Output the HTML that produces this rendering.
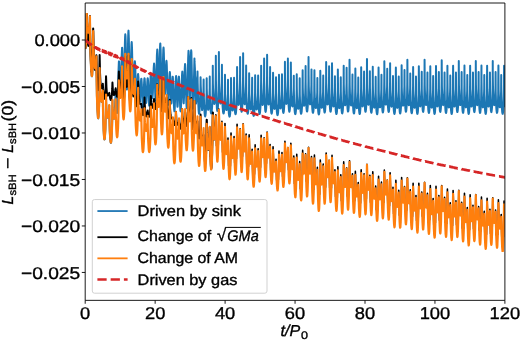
<!DOCTYPE html><html><head><meta charset="utf-8"><style>html,body{margin:0;padding:0;background:#fff;}svg{display:block;will-change:transform;}text{font-family:"Liberation Sans",sans-serif;stroke:#000;stroke-width:0.35px;text-rendering:geometricPrecision;}</style></head><body>
<svg width="520" height="340" viewBox="0 0 520 340">
<rect width="520" height="340" fill="#fff"/>
<defs><clipPath id="ax"><rect x="85.20" y="3.00" width="419.70" height="297.35"/></clipPath></defs>
<defs><filter id="bl" x="0" y="0" width="1" height="1"><feGaussianBlur stdDeviation="0.35"/></filter></defs>
<g clip-path="url(#ax)"><g filter="url(#bl)" fill="none" stroke-linejoin="round" stroke-linecap="butt">
<path d="M85.20 48.87L85.50 48.10L85.75 46.24L86.25 38.63L86.60 26.48L86.71 13.92L86.85 20.32L87.25 26.46L87.80 31.03L88.10 32.38L88.40 32.96L88.65 32.85L88.90 32.15L89.40 28.70L89.85 21.93L89.94 16.74L90.05 33.14L90.45 52.81L91.10 68.67L91.65 75.62L91.80 76.25L91.95 76.31L92.20 75.02L92.70 66.05L93.05 50.36L93.17 31.39L93.30 40.95L93.65 51.34L94.10 59.86L94.65 65.98L94.95 67.84L95.25 68.72L95.40 68.81L95.55 68.65L95.80 67.81L96.25 63.37L96.40 56.73L96.55 77.81L96.90 95.73L97.40 110.27L97.95 117.69L98.10 118.33L98.25 118.37L98.55 116.60L99.10 105.96L99.50 87.35L99.62 68.34L99.70 76.06L100.00 85.98L100.45 94.24L100.95 99.46L101.25 101.13L101.55 101.90L101.70 101.96L101.85 101.83L102.15 100.95L102.65 97.03L102.83 91.00L102.95 106.46L103.20 118.50L103.65 131.19L104.15 138.46L104.45 139.57L104.65 139.19L104.80 138.32L105.40 129.43L105.85 114.45L106.04 94.81L106.15 102.10L106.45 108.95L106.90 114.35L107.40 117.19L107.70 117.73L108.00 117.54L108.30 116.66L108.60 115.12L109.10 110.34L109.25 105.46L109.40 119.72L109.75 130.91L110.30 139.98L110.55 142.04L110.85 142.94L111.15 142.11L111.45 139.41L111.95 129.93L112.30 116.78L112.45 100.21L112.60 107.91L112.95 113.71L113.45 117.67L113.70 118.55L113.85 118.78L114.00 118.80L114.45 115.33L114.85 109.69L115.50 95.56L115.65 89.74L115.75 97.35L116.10 103.85L116.85 112.34L117.00 113.03L117.10 113.05L117.30 111.82L117.70 103.31L118.50 71.24L118.86 61.77L119.00 61.38L119.05 61.75L119.30 65.80L120.15 89.77L120.35 92.43L120.45 92.80L120.55 92.48L120.90 85.97L121.70 55.09L122.07 47.83L122.15 47.76L122.20 48.01L122.30 49.20L122.50 54.24L123.40 94.06L123.60 97.87L123.68 98.19L123.75 97.88L124.15 85.93L124.90 43.58L125.10 36.76L125.28 34.27L125.50 36.26L125.70 42.37L126.55 83.56L126.75 88.51L126.85 89.48L126.90 89.57L126.95 89.39L127.35 78.86L128.15 37.29L128.35 31.79L128.50 30.62L128.85 38.45L129.65 86.38L130.05 99.02L130.11 99.26L130.20 98.77L130.40 94.22L131.25 50.92L131.45 44.46L131.65 42.00L131.80 42.93L132.00 47.52L132.85 84.73L133.25 93.71L133.35 94.05L133.45 93.62L133.65 90.68L134.45 66.61L134.65 62.66L134.85 61.21L135.05 62.58L135.25 66.66L136.05 95.16L136.45 102.93L136.55 103.23L136.65 102.86L136.85 100.26L137.65 79.06L137.90 74.98L138.10 74.03L138.45 77.40L139.30 97.24L139.70 101.58L139.80 101.58L139.90 101.13L140.15 98.23L141.05 80.45L141.25 78.83L141.35 78.72L141.45 79.11L141.80 84.19L142.55 103.34L142.75 106.35L142.92 107.25L143.10 106.41L143.25 104.35L144.10 82.74L144.30 79.49L144.50 78.24L144.65 78.69L144.85 80.98L145.65 98.59L146.05 103.00L146.15 103.01L146.25 102.57L146.45 100.37L147.30 82.04L147.50 79.21L147.70 78.16L147.90 79.15L148.10 82.08L148.95 102.95L149.15 105.43L149.25 105.84L149.35 105.66L149.70 100.58L150.50 78.07L150.70 74.72L150.90 73.47L151.10 74.41L151.30 77.30L152.10 95.41L152.30 97.75L152.40 98.17L152.50 98.04L152.90 92.06L153.70 67.96L154.05 63.53L154.25 64.75L154.45 68.69L155.30 96.94L155.50 100.10L155.60 100.50L155.65 100.39L156.05 92.08L156.90 55.35L157.25 49.44L157.45 50.98L157.65 55.83L158.45 86.41L158.65 90.03L158.75 90.52L158.80 90.40L159.15 83.26L159.95 48.68L160.15 44.21L160.30 43.40L160.65 50.32L161.45 88.64L161.85 98.23L161.90 98.39L161.95 98.30L162.05 97.39L162.25 92.84L163.10 55.36L163.30 49.67L163.50 47.51L163.65 48.44L163.85 52.91L164.65 86.74L165.00 93.80L165.05 93.93L165.15 93.53L165.35 90.23L166.10 65.53L166.30 61.71L166.45 60.81L166.60 61.70L166.80 65.48L167.65 96.12L168.10 104.61L168.20 104.82L168.30 104.41L168.50 101.84L169.40 76.94L169.60 73.35L169.80 72.07L169.95 72.81L170.15 76.00L170.90 98.33L171.10 102.25L171.28 103.61L171.45 102.83L171.65 99.56L172.45 78.64L172.65 76.68L172.75 76.65L172.84 77.17L173.20 83.87L173.95 105.94L174.20 110.19L174.40 111.32L174.60 110.27L174.80 107.15L175.70 81.09L175.90 77.36L176.10 76.10L176.40 79.41L177.15 102.27L177.35 105.97L177.50 106.82L177.65 105.89L177.85 102.10L178.60 79.51L178.80 76.86L178.90 76.58L179.00 77.01L179.35 83.31L180.15 106.60L180.40 110.49L180.59 111.36L180.85 109.48L181.10 104.50L182.05 74.81L182.25 71.94L182.35 71.60L182.40 71.73L182.75 77.94L183.40 100.05L183.55 102.75L183.70 103.40L184.05 96.57L184.75 68.56L185.05 63.97L185.25 65.46L185.45 70.15L186.35 102.78L186.60 107.31L186.70 108.02L186.75 108.12L186.80 108.04L187.00 106.02L187.25 99.70L188.15 58.65L188.50 50.83L188.65 51.66L188.85 56.99L189.50 90.96L189.70 97.51L189.85 98.85L190.15 91.78L190.85 55.59L191.15 50.22L191.35 51.85L191.37 51.47L192.40 99.98L192.65 106.30L192.85 108.45L192.91 108.59L193.00 108.37L193.15 106.89L193.50 98.66L194.44 58.40L194.50 61.40L194.90 68.05L195.60 96.47L195.95 103.58L196.10 103.14L196.25 100.78L196.90 82.18L197.15 77.93L197.45 75.62L197.51 71.45L197.65 82.27L198.20 101.29L198.60 110.10L198.80 112.53L199.04 113.70L199.25 113.23L199.50 110.98L200.00 101.68L200.45 88.61L200.58 77.28L200.70 85.09L201.75 106.79L202.10 110.13L202.25 109.70L202.45 107.57L203.45 90.62L203.64 79.45L203.75 92.61L204.10 103.93L204.60 113.15L204.85 115.51L205.15 116.53L205.45 115.69L205.75 113.07L206.30 103.34L206.60 92.84L206.69 78.25L206.75 88.17L207.00 96.12L207.65 106.53L207.95 109.15L208.22 109.82L208.50 108.91L208.80 106.60L209.40 98.47L209.70 87.62L209.75 76.41L209.85 93.43L210.25 105.64L210.60 110.45L210.95 112.91L211.15 113.45L211.30 113.46L211.65 112.09L212.15 106.06L212.55 95.19L212.75 82.37L212.80 65.78L212.90 83.52L213.25 95.03L213.55 99.81L213.90 102.91L214.25 103.95L214.45 103.66L214.60 103.02L215.15 96.96L215.55 86.94L215.80 72.02L215.85 55.69L215.95 80.78L216.30 97.19L216.90 108.47L217.25 110.73L217.35 110.88L217.45 110.81L217.60 110.30L217.90 107.72L218.15 103.77L218.60 90.43L218.85 71.49L218.89 52.08L218.95 71.06L219.15 83.92L219.55 95.38L220.10 102.26L220.45 103.45L220.60 103.31L220.80 102.55L221.15 99.55L221.45 94.91L221.85 81.40L221.93 64.64L222.00 83.77L222.20 95.58L222.60 106.31L223.10 112.30L223.45 113.58L223.65 113.42L223.85 112.62L224.20 109.58L224.50 104.86L224.85 93.80L224.97 74.84L225.15 94.07L225.45 101.75L225.85 107.06L226.25 109.59L226.45 110.05L226.65 110.02L227.05 108.47L227.40 105.22L227.90 93.91L228.00 79.86L228.05 92.56L228.35 105.23L228.85 113.34L229.15 115.67L229.50 116.67L229.70 116.44L229.85 115.89L230.15 113.71L230.65 105.79L230.95 94.42L231.03 78.06L231.25 97.49L231.55 103.96L232.00 108.76L232.35 110.26L232.55 110.40L232.75 110.06L233.15 107.85L233.50 103.90L233.95 92.73L234.06 77.83L234.15 94.01L234.55 106.42L234.90 111.24L235.25 113.70L235.45 114.24L235.60 114.25L235.95 112.88L236.45 106.80L236.85 95.65L237.05 81.39L237.08 67.08L237.15 82.43L237.50 95.45L237.80 100.48L238.15 103.73L238.50 104.88L238.70 104.66L238.85 104.05L239.40 98.13L239.80 88.27L240.05 73.86L240.10 56.99L240.20 81.50L240.50 96.54L241.10 108.85L241.45 111.45L241.61 111.73L241.80 111.32L242.10 108.99L242.35 105.28L242.80 92.68L243.05 76.37L243.12 53.34L243.20 74.63L243.40 86.07L243.80 96.94L244.35 103.36L244.50 104.01L244.70 104.27L245.05 103.09L245.40 99.74L245.70 94.67L246.05 82.04L246.13 65.54L246.20 84.81L246.40 96.33L246.80 106.86L247.30 112.67L247.65 113.81L247.85 113.53L248.00 112.88L248.35 109.82L248.65 105.00L249.05 90.91L249.14 73.14L249.30 92.44L249.60 100.74L250.00 106.32L250.40 108.92L250.60 109.37L250.80 109.29L251.20 107.57L251.55 104.06L252.00 94.05L252.14 77.73L252.20 92.12L252.50 104.46L253.00 112.67L253.30 114.99L253.64 115.88L253.80 115.69L254.00 114.89L254.30 112.39L254.80 103.40L255.05 93.01L255.14 75.23L255.35 95.58L255.65 102.54L256.05 107.30L256.40 109.15L256.60 109.44L256.80 109.21L257.20 107.12L257.55 103.22L258.00 92.41L258.14 75.61L258.25 94.03L258.60 105.17L258.90 109.92L259.25 113.00L259.45 113.81L259.63 113.99L260.00 112.65L260.50 106.42L260.90 94.89L261.10 79.69L261.13 65.69L261.20 81.95L261.55 95.27L261.85 100.46L262.20 103.79L262.55 104.94L262.75 104.68L262.90 104.04L263.45 97.93L263.85 87.67L264.05 76.45L264.12 58.43L264.20 81.12L264.55 98.30L265.15 109.55L265.45 111.58L265.61 111.85L265.80 111.44L266.10 109.11L266.35 105.41L266.80 92.72L267.05 75.40L267.10 54.82L267.15 72.09L267.35 85.50L267.75 96.87L268.30 103.48L268.45 104.18L268.65 104.48L269.00 103.40L269.35 100.20L269.65 95.30L270.00 83.22L270.08 66.94L270.15 85.28L270.35 96.66L270.75 106.93L271.25 112.56L271.40 113.27L271.60 113.61L271.80 113.28L271.95 112.59L272.30 109.37L272.60 104.31L272.95 92.19L273.06 72.71L273.25 93.19L273.50 99.99L273.90 105.78L274.30 108.46L274.50 108.92L274.70 108.84L275.10 107.08L275.45 103.50L275.90 93.27L276.03 77.25L276.10 92.22L276.35 102.87L276.85 111.66L277.15 114.14L277.50 115.15L277.70 114.88L277.85 114.26L278.15 111.85L278.65 103.08L278.95 89.34L279.00 74.68L279.20 94.52L279.50 101.63L279.90 106.39L280.25 108.21L280.45 108.47L280.65 108.19L281.05 106.01L281.40 101.95L281.85 90.44L281.97 74.26L282.05 90.79L282.45 104.33L282.75 108.99L283.10 112.01L283.30 112.76L283.45 112.88L283.80 111.60L284.30 105.14L284.70 92.98L284.90 77.09L284.93 61.83L285.00 79.00L285.35 93.39L285.65 98.98L286.00 102.59L286.35 103.86L286.55 103.61L286.70 102.96L287.25 96.72L287.65 86.15L287.85 73.25L287.89 58.48L287.95 78.78L288.20 94.22L288.65 105.91L288.95 109.81L289.25 111.58L289.40 111.75L289.60 111.24L289.90 108.89L290.45 98.40L290.75 84.63L290.85 62.38L291.05 87.76L291.35 96.92L291.70 102.63L292.05 105.53L292.25 106.24L292.45 106.35L292.85 104.86L293.20 101.55L293.70 90.04L293.80 75.66L293.85 89.17L294.15 102.40L294.65 110.81L294.95 113.18L295.28 114.11L295.45 113.94L295.60 113.41L295.90 111.20L296.40 102.72L296.70 89.12L296.75 74.37L296.80 86.42L297.00 95.95L297.40 103.87L297.90 108.10L298.05 108.60L298.25 108.80L298.60 107.88L298.95 105.29L299.25 101.36L299.60 92.17L299.70 78.18L299.80 94.34L300.20 106.30L300.55 110.99L300.90 113.33L301.10 113.79L301.30 113.65L301.65 111.81L302.10 105.76L302.45 95.61L302.65 70.17L302.75 86.80L303.05 96.87L303.35 101.77L303.65 104.54L304.00 105.83L304.20 105.73L304.35 105.26L304.90 100.31L305.30 91.97L305.55 79.66L305.60 65.91L305.65 82.44L305.95 97.74L306.50 108.35L306.80 110.88L307.00 111.54L307.15 111.50L307.45 110.01L307.75 106.39L308.20 95.17L308.45 81.29L308.54 57.05L308.60 74.78L308.80 86.98L309.20 97.61L309.75 103.63L310.05 104.39L310.20 104.20L310.40 103.39L310.75 100.39L311.05 95.81L311.40 84.68L311.48 69.52L311.60 90.16L312.00 103.87L312.30 108.81L312.65 111.95L312.85 112.73L313.05 112.83L313.40 111.35L313.85 105.76L314.20 96.38L314.42 70.20L314.60 91.25L314.85 98.67L315.25 104.84L315.60 107.41L315.80 108.01L316.00 108.06L316.40 106.52L316.75 103.24L317.25 92.24L317.36 77.92L317.45 93.80L317.70 103.07L318.20 111.27L318.50 113.59L318.80 114.44L319.00 114.20L319.15 113.58L319.45 111.07L319.95 101.57L320.20 90.55L320.30 70.76L320.50 92.83L320.80 100.56L321.20 105.66L321.55 107.54L321.75 107.78L321.95 107.46L322.30 105.56L322.65 101.74L323.10 91.23L323.23 75.42L323.35 93.57L323.70 104.12L324.00 108.73L324.35 111.72L324.55 112.47L324.70 112.60L325.05 111.30L325.55 104.73L325.90 94.43L326.10 81.50L326.16 62.07L326.20 76.22L326.40 88.64L326.80 98.49L327.30 103.63L327.45 104.22L327.65 104.41L328.00 103.16L328.35 99.81L328.65 94.79L329.00 82.86L329.09 66.23L329.20 87.53L329.60 102.10L329.95 108.05L330.30 111.08L330.45 111.63L330.55 111.76L330.65 111.69L331.00 109.90L331.45 103.37L331.80 92.51L332.02 63.16L332.20 87.49L332.45 95.84L332.85 102.80L333.20 105.69L333.40 106.38L333.60 106.46L334.00 104.90L334.35 101.54L334.80 92.08L334.94 76.33L335.00 90.39L335.30 102.67L335.80 110.90L336.10 113.24L336.40 114.09L336.70 113.42L337.00 111.08L337.50 101.80L337.80 87.26L337.86 69.55L338.05 91.74L338.30 99.15L338.70 105.27L339.05 107.70L339.25 108.19L339.45 108.10L339.85 106.24L340.20 102.62L340.65 92.73L340.78 77.32L340.85 91.66L341.10 101.90L341.60 110.29L341.90 112.63L342.05 113.23L342.24 113.46L342.55 112.51L342.85 109.83L343.35 99.63L343.65 83.24L343.70 65.77L343.80 84.15L344.05 94.18L344.50 102.11L344.80 104.52L345.10 105.34L345.40 104.73L345.70 102.68L346.25 94.15L346.55 82.56L346.62 67.76L346.70 86.24L347.00 99.16L347.55 108.88L347.85 111.11L348.00 111.56L348.15 111.57L348.45 110.20L348.75 106.76L349.20 95.94L349.45 82.17L349.53 59.66L349.70 84.64L349.95 93.87L350.35 101.44L350.70 104.57L350.90 105.32L351.10 105.43L351.50 103.83L351.85 100.36L352.35 88.58L352.45 74.39L352.50 88.61L352.80 101.63L353.30 110.19L353.60 112.62L353.90 113.51L354.05 113.38L354.20 112.86L354.50 110.49L355.00 101.02L355.30 85.66L355.36 68.58L355.55 91.57L355.85 100.02L356.25 105.64L356.60 107.79L356.75 108.10L356.95 108.00L357.35 106.10L357.70 102.39L358.15 91.95L358.26 77.41L358.35 93.35L358.70 105.04L359.00 109.86L359.35 112.99L359.55 113.82L359.70 114.01L359.90 113.66L360.05 112.93L360.55 106.96L360.90 97.58L361.10 86.09L361.17 67.29L361.35 89.91L361.60 97.50L362.00 103.64L362.35 105.98L362.55 106.38L362.75 106.17L363.15 103.93L363.50 99.74L363.95 88.17L364.07 71.45L364.15 88.32L364.45 100.35L365.05 109.80L365.40 111.70L365.55 111.80L365.70 111.47L366.00 109.39L366.25 105.95L366.70 93.56L366.90 80.90L366.97 58.98L367.15 84.62L367.40 93.59L367.80 100.97L368.15 103.97L368.35 104.63L368.45 104.70L368.55 104.62L368.95 102.68L369.30 98.76L369.75 87.79L369.87 71.28L369.95 88.35L370.20 99.47L370.70 109.00L371.00 111.71L371.32 112.77L371.50 112.56L371.65 111.92L371.95 109.26L372.45 98.85L372.70 85.78L372.77 66.70L372.85 84.00L373.05 93.60L373.45 102.42L373.95 107.00L374.10 107.49L374.30 107.61L374.65 106.42L375.25 99.72L375.60 89.05L375.67 76.82L375.75 92.86L376.15 105.93L376.50 111.08L376.85 113.72L377.05 114.27L377.20 114.23L377.55 112.52L378.00 106.22L378.35 95.49L378.56 67.60L378.75 90.95L379.00 98.49L379.40 104.63L379.75 106.96L379.90 107.31L380.10 107.25L380.50 105.36L380.85 101.62L381.35 89.38L381.45 74.86L381.55 92.17L381.85 102.51L382.45 110.89L382.80 112.44L382.95 112.43L383.10 112.01L383.40 109.77L383.65 106.20L384.05 95.37L384.30 78.04L384.34 61.15L384.50 85.08L384.75 93.97L385.15 101.12L385.50 103.98L385.70 104.57L385.90 104.48L386.30 102.33L386.65 98.11L387.10 86.37L387.23 68.78L387.30 86.51L387.50 96.57L387.95 106.78L388.25 110.23L388.55 111.84L388.65 112.00L388.75 111.96L388.90 111.54L389.20 109.29L389.75 98.49L390.05 82.30L390.11 63.36L390.15 77.67L390.40 92.11L390.85 101.95L391.10 104.68L391.40 106.32L391.55 106.58L391.70 106.49L392.05 105.00L392.60 98.44L392.90 89.78L392.99 75.99L393.10 93.60L393.50 105.86L393.85 110.91L394.20 113.48L394.40 113.99L394.55 113.92L394.90 112.09L395.35 105.43L395.65 96.13L395.87 67.40L396.05 90.39L396.35 99.47L396.75 105.35L397.10 107.56L397.25 107.86L397.45 107.73L397.85 105.71L398.20 101.82L398.65 90.76L398.75 76.50L398.85 93.45L399.15 103.74L399.75 111.98L400.10 113.46L400.25 113.45L400.40 113.03L400.70 110.86L400.95 107.43L401.35 97.01L401.55 85.61L401.63 65.22L401.80 88.23L402.05 96.31L402.45 102.79L402.80 105.27L403.00 105.70L403.20 105.48L403.60 103.16L403.95 98.77L404.40 86.26L404.50 70.08L404.55 84.74L404.85 99.17L405.40 108.96L405.70 111.23L405.85 111.70L406.00 111.74L406.30 110.42L406.60 107.00L407.05 96.02L407.30 81.69L407.38 59.75L407.55 85.17L407.80 94.20L408.20 101.58L408.55 104.56L408.70 105.11L408.90 105.26L409.30 103.67L409.65 100.13L410.15 88.11L410.25 73.49L410.30 87.83L410.60 101.26L411.10 110.02L411.40 112.48L411.68 113.30L411.85 113.12L412.00 112.51L412.30 109.87L412.80 99.34L413.05 85.90L413.12 66.98L413.20 84.62L413.40 94.10L413.80 102.83L414.30 107.28L414.45 107.71L414.60 107.79L414.95 106.66L415.55 100.01L415.90 89.94L415.99 76.40L416.10 94.48L416.50 106.37L416.80 110.70L417.15 113.37L417.35 113.91L417.50 113.85L417.85 112.06L418.30 105.53L418.65 94.36L418.85 66.25L419.05 90.28L419.35 98.77L419.70 103.79L420.05 106.02L420.25 106.33L420.45 106.01L420.80 103.96L421.15 99.77L421.60 88.04L421.72 71.75L421.80 89.14L422.10 100.82L422.70 110.08L423.05 111.84L423.20 111.88L423.35 111.47L423.65 109.17L423.90 105.49L424.30 94.26L424.50 81.94L424.58 59.85L424.75 85.12L425.00 94.11L425.40 101.45L425.75 104.38L425.90 104.91L426.10 105.02L426.50 103.32L426.85 99.63L427.30 89.35L427.44 72.54L427.50 88.04L427.75 99.71L428.25 109.30L428.55 112.02L428.87 113.07L429.15 112.45L429.45 110.00L429.95 100.00L430.20 88.07L430.30 66.29L430.35 81.53L430.55 92.73L430.95 102.16L431.45 106.98L431.60 107.49L431.80 107.60L432.15 106.34L432.75 99.27L433.05 90.65L433.15 75.93L433.25 93.13L433.65 105.96L433.95 110.50L434.30 113.33L434.50 113.94L434.65 113.92L435.00 112.21L435.45 105.76L435.80 94.73L436.01 66.00L436.20 89.89L436.45 97.58L436.85 103.80L437.20 106.09L437.35 106.40L437.55 106.25L437.95 104.08L438.30 99.90L438.75 88.19L438.86 72.10L438.95 89.56L439.25 101.08L439.85 110.21L440.20 111.91L440.35 111.92L440.50 111.49L440.80 109.14L441.05 105.40L441.45 93.95L441.65 80.92L441.71 60.34L441.90 86.06L442.15 94.67L442.55 101.75L442.90 104.53L443.05 105.01L443.15 105.11L443.25 105.04L443.65 103.19L444.00 99.32L444.45 88.25L444.56 72.39L444.65 89.81L444.90 100.34L445.40 109.55L445.70 112.13L445.99 113.02L446.15 112.84L446.30 112.22L446.60 109.52L447.10 98.70L447.35 84.70L447.41 65.83L447.45 79.41L447.65 91.92L448.05 101.77L448.55 106.78L448.70 107.33L448.90 107.48L449.25 106.25L449.85 99.17L450.20 87.69L450.26 75.40L450.35 92.53L450.75 105.77L451.05 110.42L451.40 113.32L451.60 113.95L451.75 113.94L452.10 112.20L452.55 105.65L452.90 94.40L453.10 65.74L453.30 90.08L453.60 98.80L453.95 103.93L454.30 106.20L454.45 106.50L454.65 106.33L455.05 104.09L455.40 99.84L455.85 87.63L455.95 72.49L456.05 90.93L456.35 101.73L456.90 110.09L457.25 111.97L457.40 112.05L457.55 111.70L457.85 109.55L458.10 106.01L458.50 95.19L458.75 77.75L458.79 60.89L458.95 85.22L459.20 94.28L459.60 101.57L459.95 104.46L460.10 104.97L460.30 105.05L460.70 103.27L461.05 99.44L461.50 88.62L461.63 72.06L461.70 88.69L461.95 99.85L462.45 109.33L462.70 111.66L463.00 112.88L463.15 112.86L463.30 112.40L463.60 110.05L464.10 100.27L464.40 84.64L464.46 65.49L464.50 78.95L464.70 91.69L465.10 101.62L465.60 106.67L465.90 107.39L466.25 106.40L466.55 104.00L466.85 99.82L467.20 89.95L467.30 75.10L467.40 92.95L467.80 105.91L468.10 110.51L468.45 113.36L468.65 113.95L468.80 113.90L469.15 112.05L469.60 105.24L469.90 95.82L470.10 81.00L470.13 65.67L470.30 88.72L470.55 97.06L470.95 103.66L471.30 106.13L471.45 106.50L471.65 106.41L472.05 104.32L472.40 100.22L472.85 88.68L472.97 72.51L473.05 89.70L473.35 101.33L473.90 109.99L474.25 111.97L474.40 112.10L474.55 111.79L474.85 109.72L475.10 106.26L475.50 95.64L475.75 79.14L475.80 60.94L475.95 84.81L476.20 94.12L476.60 101.53L476.95 104.47L477.10 104.99L477.30 105.09L477.70 103.31L478.05 99.47L478.50 88.59L478.63 72.01L478.70 88.76L478.95 99.91L479.45 109.38L479.70 111.70L480.00 112.89L480.15 112.85L480.30 112.37L480.60 109.97L481.10 99.99L481.40 83.60L481.45 65.53L481.50 80.19L481.70 92.08L482.10 101.79L482.60 106.71L482.90 107.36L483.25 106.29L483.85 99.49L484.20 88.96L484.28 75.06L484.40 93.97L484.80 106.24L485.10 110.70L485.45 113.42L485.65 113.93L485.80 113.83L486.15 111.82L486.60 104.68L486.90 94.71L487.11 65.72L487.30 89.89L487.60 98.75L487.95 103.94L488.30 106.23L488.50 106.55L488.70 106.21L489.05 104.09L489.40 99.76L489.85 87.06L489.94 72.50L490.00 88.24L490.35 102.11L490.90 110.31L491.25 112.08L491.40 112.12L491.55 111.70L491.85 109.39L492.10 105.67L492.50 94.22L492.70 80.98L492.76 60.99L492.80 75.76L493.05 90.70L493.45 100.00L493.70 103.03L494.00 104.85L494.15 105.14L494.30 105.05L494.65 103.41L495.20 96.17L495.50 86.49L495.59 71.92L495.70 91.49L496.10 104.53L496.40 109.28L496.75 112.24L496.95 112.87L497.10 112.84L497.45 111.03L497.90 104.17L498.20 94.38L498.41 65.56L498.60 89.87L498.90 98.94L499.25 104.36L499.60 106.87L499.75 107.26L499.95 107.21L500.30 105.60L500.65 101.88L501.10 91.38L501.23 75.01L501.30 90.67L501.65 104.14L502.20 112.14L502.55 113.85L502.70 113.88L502.85 113.47L503.15 111.25L503.40 107.69L503.80 96.74L504.00 83.79L504.05 65.78L504.15 84.78L504.40 95.31L504.90 104.03L505.20 106.10L505.35 106.51L505.50 106.54" stroke="#1f77b4" stroke-width="2.0"/>
<path d="M85.20 48.53L85.45 47.64L85.70 45.28L86.15 37.19L86.50 26.32L86.71 13.81L86.95 24.19L87.45 36.10L87.95 43.36L88.20 45.26L88.40 45.88L88.55 45.79L88.65 45.45L88.85 44.10L89.30 37.60L89.75 25.51L89.94 15.91L90.15 33.06L90.60 53.45L91.05 65.99L91.50 71.61L91.60 71.97L91.75 71.91L92.00 70.22L92.45 62.14L92.95 44.48L93.17 28.38L93.65 50.96L94.35 66.12L94.80 69.58L94.90 69.79L95.05 69.77L95.30 68.94L96.00 62.60L96.40 55.17L96.60 65.36L97.00 76.78L97.45 85.25L97.85 89.34L98.00 90.00L98.15 90.15L98.40 89.23L98.90 82.62L99.35 70.09L99.62 54.92L100.05 73.43L100.40 81.10L100.75 85.65L101.10 87.82L101.25 88.17L101.45 88.24L101.85 87.40L102.75 84.44L102.83 83.83L103.05 88.13L103.60 94.23L104.05 97.49L104.45 98.71L104.70 98.47L104.95 97.33L105.40 92.74L105.80 85.20L106.04 76.37L106.45 87.35L106.80 91.87L107.15 94.40L107.45 95.38L107.60 95.55L107.80 95.52L109.25 92.87L109.45 94.65L110.15 98.29L110.55 99.65L110.75 99.96L110.90 99.99L111.15 99.57L111.35 98.78L111.80 95.21L112.25 88.42L112.45 82.53L112.90 90.27L113.25 93.10L113.60 94.58L113.80 94.93L114.00 94.98L114.50 94.02L115.25 90.90L115.65 88.32L115.95 91.48L116.60 95.37L117.05 96.72L117.26 96.74L117.45 96.32L117.90 93.38L118.30 87.95L118.65 80.15L118.86 71.48L119.15 78.73L119.70 85.86L120.20 89.08L120.45 89.57L120.70 89.28L121.10 87.17L121.50 82.94L121.85 77.05L122.07 70.45L122.30 79.95L122.85 92.30L123.30 98.30L123.55 99.80L123.65 99.99L123.75 99.93L124.00 98.62L124.20 96.33L124.65 86.77L125.05 72.16L125.28 56.48L125.50 66.94L125.95 78.20L126.40 84.60L126.65 86.36L126.89 86.86L127.10 86.33L127.35 84.52L127.80 77.96L128.25 66.79L128.50 55.39L128.70 70.00L129.10 85.96L129.55 97.00L130.00 102.01L130.11 102.34L130.25 102.26L130.50 100.72L131.00 92.18L131.45 77.49L131.72 60.75L131.90 71.04L132.30 83.45L132.75 91.87L133.20 95.85L133.40 96.40L133.60 96.31L134.00 94.56L134.70 87.55L134.93 83.53L135.20 92.78L135.65 100.74L136.15 105.38L136.40 106.22L136.53 106.27L136.65 106.08L137.10 103.35L137.50 98.19L137.90 90.11L138.13 81.58L138.60 93.64L139.30 101.54L139.60 103.07L139.95 103.90L140.25 104.08L140.85 103.98L141.30 104.16L141.33 104.05L141.55 106.73L142.20 111.70L142.65 114.15L143.05 115.16L143.30 115.05L143.55 114.23L143.95 110.88L144.30 104.96L144.52 97.55L144.75 104.12L145.20 110.88L145.65 114.68L145.90 115.80L146.15 116.33L146.30 116.42L146.50 116.31L147.70 110.58L148.00 113.16L148.65 116.05L148.90 116.62L149.10 116.74L149.30 116.51L149.50 115.87L149.90 113.22L150.30 108.55L150.87 95.88L151.25 102.88L151.55 105.37L151.95 107.23L152.20 107.69L152.45 107.70L153.00 106.53L153.65 102.90L154.03 99.08L154.30 102.56L154.90 106.91L155.30 108.62L155.50 108.93L155.70 108.79L156.15 106.48L156.60 100.82L157.00 92.01L157.18 84.18L157.40 89.87L157.90 96.59L158.40 100.15L158.65 100.78L158.85 100.68L159.30 98.35L159.70 93.52L160.15 84.31L160.33 77.43L160.55 88.57L160.95 99.92L161.40 107.94L161.80 111.08L161.90 111.27L162.05 111.10L162.25 110.02L162.70 103.96L163.20 91.05L163.47 77.88L163.65 86.17L164.05 96.22L164.45 102.39L164.90 105.86L165.10 106.40L165.30 106.43L165.75 105.04L166.35 101.03L166.60 97.78L166.85 105.11L167.35 112.90L167.85 117.17L168.10 118.09L168.25 118.23L168.35 118.16L168.75 116.48L169.15 112.45L169.55 105.57L169.72 99.76L170.15 109.94L170.50 114.21L170.85 116.73L171.15 117.89L171.55 118.48L172.00 118.51L172.84 117.95L173.05 119.65L173.70 122.93L174.10 124.37L174.45 124.98L174.70 124.89L174.95 124.27L175.35 121.80L175.75 116.74L175.95 111.64L176.40 119.27L176.75 122.25L177.10 123.99L177.45 124.76L177.65 124.86L177.90 124.74L178.40 124.04L179.04 122.17L179.25 123.77L180.05 127.54L180.40 128.48L180.59 128.61L180.75 128.45L181.20 126.37L181.60 121.98L181.95 115.44L182.14 108.96L182.55 117.37L182.90 120.82L183.25 122.71L183.50 123.27L183.65 123.34L183.80 123.22L184.35 121.32L184.90 117.14L185.22 112.46L185.45 116.75L186.05 122.96L186.45 125.42L186.65 125.92L186.85 125.79L187.30 122.79L187.70 116.53L188.10 106.42L188.30 97.10L188.50 103.90L188.95 111.78L189.40 116.25L189.60 117.29L189.84 117.76L190.05 117.47L190.25 116.57L190.70 112.37L191.15 104.99L191.37 98.12L191.60 109.05L192.05 120.50L192.50 126.98L192.75 128.69L192.90 129.08L193.00 129.08L193.25 128.13L193.45 126.41L193.85 120.29L194.25 110.17L194.44 101.04L194.85 114.22L195.55 124.33L195.95 126.51L196.15 126.85L196.40 126.73L197.00 124.96L197.51 121.15L197.70 125.82L198.15 132.14L198.60 136.39L199.00 138.32L199.15 138.50L199.25 138.44L199.50 137.55L199.95 132.92L200.35 124.98L200.58 114.43L200.95 127.42L201.60 138.07L202.05 141.14L202.30 141.71L202.45 141.75L202.60 141.59L202.95 140.63L203.25 139.16L203.55 136.79L203.64 134.96L203.85 143.49L204.35 154.06L204.85 160.97L205.25 163.29L205.40 163.19L205.50 162.79L205.70 161.08L206.10 153.30L206.50 136.75L206.69 119.76L207.20 140.19L207.60 146.68L208.05 149.61L208.15 149.76L208.30 149.69L208.55 148.80L209.05 144.13L209.45 136.89L209.75 127.23L209.95 140.88L210.35 155.56L210.80 165.28L211.05 168.05L211.25 168.78L211.50 167.65L211.70 165.02L212.15 152.92L212.80 112.52L213.35 131.15L213.70 136.50L214.05 139.03L214.25 139.35L214.50 138.62L214.95 134.40L215.45 125.78L215.85 115.21L216.00 125.23" stroke="#000" stroke-width="2.0"/>
<path d="M204.05 148.24L204.30 153.18M206.05 154.69L206.45 139.46L206.69 119.76L206.95 133.02L207.35 143.19M209.10 143.44L209.50 135.68L209.75 127.23L209.95 140.88L210.40 156.95M212.15 152.92L212.55 132.99L212.80 112.52L213.10 124.72L213.45 133.03M215.20 130.62L215.55 123.51L215.85 115.21L216.10 130.25L216.50 146.31M218.25 145.52L218.65 126.69L218.89 109.05L219.15 119.51L219.55 130.15M221.30 134.22L221.65 128.22L221.93 121.20L222.20 137.72L222.55 152.60M224.35 155.43L224.70 140.56L224.97 123.57L225.30 136.57L225.60 144.58M227.35 150.06L227.65 145.74L228.00 138.16L228.30 153.51L228.65 166.02M230.40 166.28L230.75 151.40L231.03 133.04L231.35 144.37L231.65 151.47M233.40 151.16L233.70 145.74L234.06 136.52L234.35 151.22L234.70 163.25M236.45 158.95L236.80 143.18L237.08 124.34L237.40 135.24L237.70 141.96M239.45 142.23L239.80 136.23L240.10 128.92L240.35 142.88L240.75 158.00M242.50 156.84L242.85 141.65L243.12 123.82L243.40 134.03L243.75 142.53M245.50 146.35L245.80 141.67L246.13 134.15L246.40 149.92L246.75 164.04M248.50 166.81L248.85 152.53L249.14 134.90L249.45 146.85L249.75 154.71M251.50 160.04L251.80 155.99L252.14 149.25L252.45 164.34L252.80 175.92M254.50 174.56L254.85 161.32L255.14 144.91L255.45 154.74L255.75 161.07M257.50 160.81L257.80 156.07L258.14 148.71L258.40 160.34L258.75 171.09M260.50 167.64L260.85 152.93L261.13 135.38L261.45 145.51L261.75 151.62M263.50 150.07L264.12 137.87L264.35 150.26L264.75 164.41M266.45 163.66L266.85 147.69L267.10 132.14L267.40 141.92L267.75 149.54M269.45 154.19L269.75 150.58L270.08 144.64L270.35 158.16L270.70 170.51M272.45 173.11L272.75 162.75L273.06 146.70L273.40 157.95L273.70 164.52M275.40 168.46L275.65 165.64L276.03 159.25L276.35 172.04L276.65 180.45M278.35 180.10L278.70 167.73L279.00 151.16L279.35 161.20L279.65 166.64M281.35 164.82L281.97 152.58L282.25 165.63L282.60 176.74M284.30 172.71L284.65 158.30L284.93 141.21L285.25 150.96L285.55 156.73M287.25 156.92L287.89 147.48L288.10 157.33L288.50 170.23M290.20 172.94L290.55 160.28L290.85 143.22L291.15 153.38L291.45 160.48M293.20 165.83L293.45 162.62L293.80 155.97L294.10 171.45L294.45 184.03M296.15 185.12L296.45 172.99L296.75 154.32L297.10 166.42L297.40 173.24M299.10 174.04L299.70 161.66L300.00 176.99L300.35 189.18M302.05 184.69L302.35 170.93L302.65 150.42L303.00 162.06L303.30 168.29M305.00 166.23L305.60 153.77L305.85 168.04L306.20 181.66M307.90 182.31L308.30 164.39L308.54 147.26L308.80 156.53L309.15 164.96M310.85 168.85L311.15 164.26L311.48 156.63L311.75 172.96L312.10 187.87M313.80 190.03L314.15 174.06L314.42 155.05L314.75 167.89L315.05 175.77M316.75 179.48L317.05 174.60L317.36 167.36L317.65 183.98L318.00 197.77M319.70 194.80L320.00 180.64L320.30 160.02L320.60 171.05L320.90 178.24M322.60 177.74L323.23 164.08L323.50 178.79L323.85 191.71M325.55 187.62L325.90 171.18L326.16 153.02L326.45 163.14L326.80 170.88M328.45 171.53L328.85 165.47L329.09 160.24L329.35 174.65L329.70 187.86M331.40 188.30L331.75 173.08L332.02 155.32L332.35 167.54L332.65 174.89M334.30 180.09L334.60 176.31L334.94 169.85L335.20 183.81L335.55 197.06M337.25 198.67L337.55 186.46L337.86 166.84L338.20 178.84L338.50 185.76M340.15 187.09L340.45 182.34L340.78 174.78L341.05 188.56L341.40 201.21M343.10 197.96L343.45 180.67L343.70 161.91L344.00 172.89L344.30 180.21M346.00 180.01L346.62 167.71L346.85 181.23L347.25 196.65M348.90 195.22L349.25 179.97L349.53 160.87L349.80 170.64L350.15 179.21M351.85 183.12L352.45 173.73L352.70 186.97L353.05 199.74M354.75 201.17L355.05 189.48L355.36 171.40L355.65 182.02L355.95 189.37M357.65 192.47L357.90 189.20L358.26 182.43L358.55 195.47L358.90 206.45M360.55 203.54L360.90 188.00L361.17 169.76L361.50 181.07L361.80 187.51M363.45 186.26L364.07 173.79L364.35 188.64L364.70 201.44M366.35 199.09L366.70 183.25L366.97 164.20L367.25 174.19L367.60 182.29M369.25 185.29L369.55 181.34L369.87 175.26L370.15 189.93L370.50 202.63M372.15 203.21L372.50 188.81L372.77 171.79L373.10 184.09L373.40 191.38M375.05 195.23L375.30 192.26L375.67 186.01L375.95 199.08L376.30 210.19M377.95 208.20L378.25 195.81L378.56 176.31L378.85 186.53L379.15 193.52M380.85 193.45L381.45 182.17L381.70 194.50L382.05 206.56M383.75 203.01L384.10 186.76L384.34 170.16L384.60 179.68L384.95 187.76M386.60 189.67L386.95 185.11L387.23 180.05L387.45 192.04L387.85 206.54M389.50 206.33L389.85 190.68L390.11 172.72L390.40 184.15L390.70 192.26M392.40 197.03L392.99 187.25L393.25 200.98L393.60 214.08M395.25 214.68L395.60 199.10L395.87 180.34L396.20 192.89L396.50 200.23M398.15 201.39L398.75 190.26L399.05 205.20L399.35 215.65M401.00 213.57L401.35 197.27L401.63 177.46L401.95 189.52L402.25 196.57M403.90 196.78L404.50 186.59L404.75 199.31L405.10 211.57M406.75 210.84L407.10 196.09L407.38 177.79L407.65 187.65L408.00 195.85M409.65 199.16L410.25 189.80L410.50 202.93L410.85 215.83M412.50 216.83L412.85 201.39L413.12 183.20L413.40 194.49L413.70 202.61M415.40 205.70L415.99 195.56L416.25 208.85L416.60 221.05M418.25 218.11L418.55 204.26L418.85 183.20L419.15 194.65L419.45 202.09M421.10 202.74L421.72 192.02L421.95 204.18L422.30 216.68M423.95 215.99L424.30 200.98L424.58 182.28L424.85 192.17L425.20 200.29M426.85 203.01L427.44 193.42L427.70 207.33L428.05 220.46M429.70 220.29L430.00 206.51L430.30 185.59L430.60 198.12L430.90 206.30M432.55 209.39L433.15 198.58L433.45 214.02L433.75 224.98M435.40 222.91L435.75 205.65L436.01 186.20L436.30 197.86L436.60 205.73M438.25 206.55L438.86 195.59L439.10 208.13L439.45 220.82M441.10 219.28L441.45 203.85L441.71 185.64L441.95 194.60L442.30 203.19M443.95 206.85L444.25 202.99L444.56 197.27L445.15 222.98M446.80 223.90L447.15 207.71L447.41 188.94L447.70 200.92L448.00 209.29M449.65 212.92L450.26 202.73L450.55 217.32L450.85 227.88M452.50 225.87L452.80 211.99L453.10 190.52L453.40 202.26L453.70 209.94M455.35 210.82L455.95 200.72L456.20 213.35L456.55 225.33M458.20 222.45L458.55 206.81L458.79 190.37L459.05 200.08L459.40 208.26M461.05 211.05L461.63 202.28L461.90 216.13L462.25 228.67M463.85 228.72L464.20 212.41L464.46 193.21L464.75 205.38L465.05 213.92M466.70 217.60L467.30 207.43L467.60 222.68L467.90 233.33M469.55 230.18L469.85 215.57L470.13 194.81L470.45 207.45L470.75 214.95M472.35 215.63L472.97 205.37L473.20 217.10L473.55 229.22M475.20 226.83L475.55 211.38L475.80 194.50L476.05 203.96L476.40 212.20M478.05 215.08L478.63 206.66L479.20 230.85M480.85 231.76L481.15 218.28L481.45 196.95L481.75 209.43L482.05 217.78M483.70 221.08L484.28 211.41L484.55 225.03L484.90 237.40M486.50 234.73L486.80 220.64L487.11 198.25L487.40 210.19L487.70 218.14M489.35 219.01L489.94 209.22L490.20 222.18L490.55 233.87M492.15 231.02L492.50 215.66L492.76 197.80L493.00 206.98L493.35 215.47M495.00 218.60L495.59 210.17L495.85 223.18L496.20 235.40M497.80 235.00L498.10 221.49L498.41 199.70L498.70 212.14L499.00 220.60M500.65 223.99L501.23 214.52L501.50 228.01L501.85 240.23M503.45 237.24L503.75 223.06L504.05 201.03L504.35 213.20L504.65 221.07" stroke="#000" stroke-width="1.6"/>
<path d="M85.20 48.57L85.50 47.80L85.75 45.94L86.25 38.33L86.60 26.18L86.71 13.62L86.85 20.02L87.25 26.16L87.80 30.73L88.10 32.08L88.40 32.66L88.65 32.55L88.90 31.85L89.40 28.40L89.85 21.63L89.94 16.44L90.05 32.84L90.45 52.51L91.10 68.37L91.65 75.32L91.80 75.95L91.95 76.01L92.20 74.72L92.70 65.75L93.05 50.06L93.17 31.09L93.30 40.65L93.65 51.04L94.10 59.56L94.65 65.68L94.95 67.54L95.25 68.42L95.40 68.51L95.55 68.35L95.80 67.51L96.25 63.07L96.40 56.43L96.55 77.51L96.90 95.43L97.40 109.97L97.95 117.39L98.10 118.03L98.25 118.07L98.55 116.30L99.10 105.66L99.50 87.05L99.62 68.04L99.70 75.76L100.00 85.68L100.45 93.94L100.95 99.16L101.25 100.83L101.55 101.60L101.70 101.66L101.85 101.53L102.15 100.65L102.65 96.73L102.83 90.70L102.95 106.16L103.20 118.20L103.65 130.89L104.15 138.16L104.45 139.27L104.65 138.89L104.80 138.02L105.40 129.13L105.85 114.15L106.04 94.51L106.15 101.80L106.45 108.65L106.90 114.05L107.40 116.89L107.70 117.43L108.00 117.24L108.30 116.36L108.60 114.82L109.10 110.04L109.25 105.16L109.40 119.42L109.75 130.61L110.30 139.68L110.55 141.74L110.85 142.64L111.15 141.81L111.45 139.11L111.95 129.63L112.30 116.48L112.45 99.91L112.55 106.24L112.90 112.81L113.40 117.12L113.65 118.12L113.95 118.51L114.20 118.21L114.50 117.12L115.05 112.84L115.50 106.09L115.65 99.43L115.80 114.73L116.25 128.60L116.55 133.57L116.85 136.41L117.15 137.29L117.45 136.17L118.00 128.40L118.45 114.96L118.75 98.18L118.86 80.42L119.00 88.74L119.35 94.59L119.85 97.76L120.00 98.02L120.15 98.01L120.45 97.18L121.00 92.98L121.55 84.82L121.95 74.55L122.07 66.24L122.20 86.30L122.60 105.04L123.15 116.74L123.45 119.09L123.60 119.29L123.75 118.85L124.05 116.03L124.30 111.61L124.80 96.06L125.15 75.92L125.28 53.74L125.40 62.96L125.75 71.44L126.20 76.56L126.45 77.91L126.75 78.43L127.05 77.86L127.35 76.27L127.90 70.66L128.35 62.18L128.50 53.86L128.60 70.06L128.95 88.58L129.45 102.99L130.00 110.55L130.15 111.25L130.30 111.37L130.60 109.75L131.15 99.40L131.55 81.98L131.72 59.00L131.85 69.31L132.15 78.29L132.60 86.42L133.15 91.93L133.45 93.33L133.75 93.72L134.05 93.11L134.35 91.44L134.80 85.65L134.93 78.93L135.05 96.63L135.35 112.37L135.80 125.91L136.35 134.10L136.65 135.35L136.80 135.14L136.95 134.35L137.25 130.95L137.55 124.78L138.00 106.50L138.13 87.82L138.25 97.00L138.55 105.81L139.00 113.57L139.50 118.44L139.80 119.95L140.10 120.55L140.25 120.54L140.40 120.32L140.70 119.25L141.15 115.40L141.33 109.31L141.45 124.03L141.85 139.18L142.35 148.55L142.65 151.29L142.92 152.13L143.20 151.40L143.50 148.73L144.00 139.31L144.40 123.37L144.52 108.34L144.65 116.49L144.95 122.91L145.40 128.05L145.90 130.56L146.20 130.86L146.50 130.38L147.05 127.45L147.55 121.37L147.70 115.76L147.80 127.42L148.20 140.71L148.75 149.46L149.00 151.35L149.28 152.02L149.55 151.20L149.85 148.45L150.35 138.65L150.75 122.05L150.87 106.56L151.00 114.54L151.35 121.21L151.85 125.67L152.15 126.76L152.30 126.94L152.45 126.89L152.70 126.30L153.00 124.78L153.45 119.70L153.90 110.75L154.03 103.43L154.15 118.39L154.55 133.12L155.10 142.38L155.40 144.20L155.55 144.29L155.65 144.04L155.95 141.75L156.20 137.95L156.70 123.99L157.05 105.41L157.18 84.74L157.30 93.51L157.65 101.28L158.10 105.71L158.35 106.71L158.50 106.90L158.65 106.79L158.95 105.73L159.20 103.98L159.75 97.16L160.20 87.36L160.33 78.54L160.50 100.94L160.90 118.83L161.45 131.11L161.75 133.89L161.90 134.31L162.05 134.09L162.35 131.62L162.60 127.39L163.05 113.66L163.35 97.11L163.47 77.03L163.60 87.97L163.90 97.33L164.35 105.48L164.85 110.26L165.10 111.35L165.25 111.62L165.40 111.62L165.70 110.82L166.00 108.93L166.45 102.63L166.60 94.99L166.70 110.53L167.00 126.20L167.45 139.02L167.95 146.21L168.25 147.61L168.40 147.46L168.55 146.74L168.85 143.46L169.15 137.36L169.55 122.16L169.72 101.36L169.85 111.11L170.15 119.73L170.60 127.21L171.15 131.93L171.45 132.94L171.60 133.08L171.75 132.98L172.00 132.31L172.25 130.49L172.70 124.19L172.84 117.36L172.95 132.32L173.35 149.27L173.85 159.54L174.10 162.15L174.39 163.27L174.65 162.50L174.95 159.43L175.45 148.05L175.80 131.96L175.95 112.00L176.05 120.77L176.40 130.04L176.85 135.92L177.10 137.66L177.35 138.54L177.50 138.68L177.65 138.56L177.90 137.69L178.45 133.26L178.90 125.79L179.04 118.39L179.15 132.70L179.55 148.85L180.05 158.54L180.30 160.88L180.45 161.55L180.59 161.69L180.85 160.64L181.15 157.22L181.65 145.22L182.00 128.47L182.14 109.08L182.25 118.04L182.55 125.72L183.00 131.42L183.20 132.76L183.50 133.44L183.75 133.10L184.05 131.72L184.60 126.48L185.05 118.00L185.22 109.11L185.35 125.04L185.75 139.80L186.30 148.76L186.60 150.26L186.75 150.18L186.85 149.81L187.35 144.05L187.85 130.78L188.20 112.83L188.30 97.20L188.40 105.15L188.75 113.23L189.25 119.05L189.50 120.55L189.80 121.28L189.95 121.22L190.10 120.88L190.35 119.66L190.90 114.32L191.25 107.22L191.37 99.26L191.50 117.17L191.85 133.54L192.35 145.69L192.60 148.90L192.90 150.55L193.05 150.48L193.20 149.81L193.45 147.30L193.95 136.25L194.30 120.74L194.44 101.18L194.55 110.44L194.90 120.80L195.35 128.14L195.85 132.32L196.15 133.22L196.30 133.26L196.45 133.03L196.75 131.75L197.00 129.78L197.40 123.12L197.51 116.43L197.65 133.73L198.00 148.93L198.50 160.85L199.00 165.98L199.15 165.98L199.30 165.41L199.55 163.11L200.05 152.77L200.45 134.69L200.58 116.74L200.70 126.45L201.00 134.77L201.40 141.04L201.90 144.88L202.15 145.47L202.30 145.44L202.45 145.12L203.00 141.64L203.45 135.40L203.64 128.16L203.75 140.97L204.15 156.59L204.65 167.01L204.90 169.75L205.17 170.87L205.30 170.71L205.45 169.92L205.70 167.12L206.15 156.80L206.55 139.33L206.69 123.76L206.85 132.39L207.20 140.61L207.65 146.64L207.90 148.42L208.15 149.15L208.35 149.00L208.60 147.91L209.05 143.30L209.55 134.21L209.75 126.96L210.00 144.09L210.50 160.30L211.00 168.43L211.25 169.36L211.45 168.47L211.85 162.07L212.20 151.19L212.80 115.35L213.00 123.46L213.40 132.31L213.80 137.48L214.00 138.82L214.20 139.34L214.40 139.06L214.60 138.00L215.00 133.72L215.50 125.09L215.85 116.12L216.15 132.99L216.65 150.90L217.10 159.93L217.30 161.46L217.40 161.61L217.50 161.34L217.85 156.98L218.25 145.55L218.89 109.88L219.55 130.19L219.90 135.99L220.30 139.32L220.50 139.73L220.70 139.36L221.10 136.57L221.60 129.96L221.93 122.95L222.55 152.71L222.95 163.48L223.30 168.27L223.40 168.80L223.55 168.92L223.75 167.80L224.15 161.11L224.65 144.66L224.97 126.91L225.60 144.75L225.95 150.18L226.35 153.48L226.55 154.04L226.75 153.93L227.15 151.92L227.65 146.67L228.00 140.54L228.75 168.77L229.15 176.54L229.35 178.58L229.55 179.30L229.75 178.63L229.95 176.52L230.35 167.93L230.75 153.25L231.03 136.44L231.30 144.80L231.70 152.43L232.05 156.38L232.25 157.58L232.45 158.03L232.65 157.77L232.85 156.83L233.25 153.17L234.06 138.90L234.35 152.47L234.85 166.98L235.30 173.80L235.50 174.70L235.70 174.18L236.05 169.74L236.45 159.10L237.08 127.28L237.70 142.11L238.10 146.77L238.50 148.66L238.70 148.52L238.90 147.69L239.30 144.17L239.80 136.74L240.10 129.82L240.40 145.50L240.90 162.28L241.35 170.60L241.55 171.97L241.65 172.07L241.75 171.78L242.10 167.63L242.50 156.88L243.12 124.72L243.75 142.58L244.10 147.95L244.50 151.04L244.70 151.43L244.90 151.10L245.30 148.53L245.80 142.41L246.13 135.98L246.75 164.14L247.15 174.35L247.50 178.82L247.70 179.38L247.90 178.46L248.35 171.03L248.80 156.40L249.14 138.26L249.75 154.90L250.10 160.11L250.50 163.25L250.70 163.78L250.90 163.67L251.30 161.78L251.80 156.96L252.14 151.63L252.85 177.25L253.20 183.83L253.40 185.89L253.60 186.71L253.80 186.26L254.00 184.54L254.40 177.29L254.85 163.09L255.14 148.31L255.75 161.26L256.10 164.93L256.50 166.62L256.70 166.52L256.90 165.86L257.30 163.00L257.80 157.06L258.14 151.08L258.45 163.26L258.95 175.37L259.40 180.98L259.60 181.58L259.80 180.90L260.20 175.48L260.55 166.19L261.13 138.31L261.40 145.76L261.80 152.42L262.15 155.86L262.35 156.86L262.55 157.16L262.75 156.79L262.95 155.78L263.35 152.05L264.12 138.76L264.45 154.66L264.90 168.36L265.30 175.40L265.50 176.88L265.60 177.07L265.70 176.90L266.05 173.32L266.45 163.68L267.10 133.08L267.70 148.72L268.05 153.85L268.45 157.00L268.65 157.56L268.85 157.50L269.25 155.78L269.75 151.34L270.08 146.57L270.80 173.22L271.20 180.85L271.57 183.68L271.65 183.73L271.75 183.51L271.95 182.13L272.35 175.67L272.80 162.54L273.06 150.08L273.65 163.88L274.00 168.40L274.40 171.13L274.55 171.54L274.75 171.61L275.15 170.26L275.65 166.39L276.03 161.63L276.75 182.63L277.15 188.58L277.50 190.47L277.70 190.01L277.90 188.38L278.30 181.44L278.70 169.38L279.00 154.56L279.65 166.76L280.00 169.86L280.20 170.76L280.40 171.05L280.60 170.74L280.80 169.88L281.20 166.62L281.97 154.90L282.70 179.10L283.10 185.39L283.30 186.72L283.40 186.89L283.50 186.73L283.90 182.59L284.25 174.35L284.93 143.38L285.50 156.11L285.85 160.13L286.25 162.11L286.45 162.13L286.65 161.57L287.05 158.90L287.89 147.95L288.20 161.19L288.70 175.12L289.10 181.69L289.30 183.17L289.40 183.42L289.50 183.34L289.90 179.54L290.25 171.61L290.85 145.44L291.45 160.62L291.80 165.60L292.20 168.69L292.40 169.25L292.60 169.20L293.00 167.50L293.50 162.92L293.80 158.31L294.50 185.48L294.90 193.89L295.28 197.18L295.35 197.25L295.45 197.03L295.65 195.52L296.05 188.09L296.45 174.62L296.75 157.72L297.35 172.55L297.75 177.77L298.10 179.83L298.30 179.92L298.50 179.34L298.90 176.40L299.40 170.00L299.70 164.04L300.40 190.56L300.80 198.18L301.00 200.00L301.15 200.43L301.35 199.69L301.55 197.41L301.95 188.17L302.35 172.53L302.65 153.72L303.25 167.67L303.60 171.74L303.80 173.01L304.00 173.54L304.20 173.35L304.40 172.48L304.80 168.90L305.60 155.09L305.90 170.85L306.40 187.44L306.85 195.40L307.05 196.47L307.25 195.91L307.60 190.84L307.95 180.54L308.54 148.01L309.15 165.01L309.50 170.32L309.90 173.31L310.10 173.64L310.30 173.24L310.70 170.50L311.20 164.15L311.48 158.40L312.20 191.18L312.60 200.51L312.95 203.64L313.05 203.62L313.15 203.18L313.35 201.04L313.75 191.79L314.42 158.42L315.00 174.96L315.35 180.53L315.75 183.80L315.95 184.28L316.15 184.03L316.55 181.62L317.05 175.69L317.36 169.74L318.05 199.36L318.45 208.33L318.60 210.10L318.80 210.99L319.00 210.29L319.20 207.94L319.60 198.39L320.30 163.42L320.90 178.42L321.25 182.66L321.45 183.97L321.65 184.49L321.80 184.40L322.00 183.66L322.40 180.31L322.90 173.29L323.23 166.40L323.55 181.98L324.05 196.84L324.45 202.91L324.65 203.75L324.85 203.03L325.20 197.88L325.55 187.74L326.16 155.13L326.75 170.13L327.10 174.75L327.50 177.06L327.60 177.16L327.70 177.09L327.90 176.42L328.30 173.27L329.09 160.71L329.75 189.42L330.15 198.70L330.50 202.07L330.60 202.15L330.70 201.84L330.90 200.00L331.30 191.50L331.75 174.34L332.02 157.76L332.60 174.08L332.95 179.44L333.35 182.71L333.50 183.19L333.70 183.26L334.10 181.68L334.60 177.21L334.94 172.21L335.60 198.60L335.95 206.51L336.30 210.48L336.40 210.84L336.55 210.68L336.75 209.17L337.15 201.65L337.60 185.79L337.86 170.24L338.45 185.07L338.80 189.73L339.20 192.12L339.35 192.25L339.55 191.84L339.95 189.24L340.45 183.29L340.78 177.16L341.50 203.96L341.90 211.51L342.05 212.96L342.24 213.60L342.45 212.67L342.65 210.10L343.05 199.88L343.70 165.02L344.30 180.37L344.65 184.90L345.05 186.97L345.20 186.88L345.40 186.11L345.80 182.62L346.62 168.55L347.30 198.17L347.70 207.00L347.90 209.18L348.08 209.75L348.25 209.06L348.45 206.69L348.85 196.94L349.53 162.17L350.10 178.36L350.45 183.76L350.80 186.61L350.99 187.19L351.15 187.20L351.55 185.60L352.10 180.71L352.45 175.94L353.10 201.22L353.45 208.80L353.80 212.57L353.90 212.89L354.05 212.72L354.25 211.25L354.65 204.03L355.05 191.06L355.36 174.80L355.95 189.55L356.30 194.05L356.65 196.27L356.81 196.60L357.00 196.47L357.40 194.61L357.90 190.00L358.26 184.81L358.95 207.70L359.35 214.68L359.70 216.84L359.90 216.20L360.10 214.08L360.50 205.24L361.17 173.13L361.75 186.90L362.10 191.00L362.30 192.26L362.50 192.78L362.65 192.69L362.85 191.97L363.25 188.73L364.07 175.45L364.40 191.39L364.90 206.77L365.30 213.31L365.50 214.31L365.70 213.59L366.05 208.07L366.40 197.25L366.97 164.88L367.55 181.39L367.90 186.68L368.25 189.33L368.42 189.75L368.60 189.63L369.00 187.59L369.50 182.55L369.87 176.86L370.50 202.70L370.85 210.77L371.20 214.75L371.30 215.09L371.40 215.06L371.65 213.45L372.05 206.11L372.50 190.63L372.77 175.14L373.35 190.64L373.70 195.61L374.05 198.20L374.22 198.67L374.40 198.68L374.80 197.14L375.30 193.04L375.67 188.39L376.35 211.45L376.75 218.53L376.95 220.32L377.11 220.81L377.30 220.25L377.50 218.26L377.90 209.84L378.56 179.71L379.15 193.71L379.50 197.72L379.85 199.37L380.00 199.41L380.20 198.91L380.60 196.19L381.45 184.45L381.75 197.59L382.25 211.43L382.65 217.39L382.85 218.34L383.05 217.78L383.40 212.98L383.75 203.14L384.34 171.90L384.90 186.95L385.25 191.85L385.60 194.24L385.78 194.55L385.95 194.33L386.35 192.09L386.85 186.72L387.23 180.62L387.90 208.01L388.30 216.67L388.65 219.64L388.75 219.63L388.85 219.21L389.05 217.14L389.45 208.04L390.11 175.42L390.65 191.44L391.00 197.16L391.35 200.27L391.50 200.87L391.70 201.03L392.10 199.53L392.60 195.12L392.99 189.62L393.70 216.93L394.10 224.87L394.45 227.31L394.65 226.61L394.85 224.31L395.20 216.36L395.60 200.92L395.87 183.74L396.45 199.49L396.80 204.34L397.15 206.56L397.31 206.78L397.50 206.46L397.90 204.01L398.40 198.43L398.75 192.64L399.05 206.32L399.55 220.67L399.95 226.74L400.15 227.67L400.35 227.05L400.70 222.05L401.05 211.92L401.63 180.66L402.20 195.86L402.55 200.47L402.90 202.48L403.07 202.60L403.25 202.17L403.65 199.48L404.50 187.70L404.80 201.79L405.25 215.57L405.65 222.66L405.85 224.11L405.95 224.27L406.05 224.02L406.40 219.98L406.75 210.86L407.38 178.71L407.90 194.02L408.25 199.62L408.60 202.58L408.75 203.12L408.95 203.23L409.35 201.63L409.90 196.72L410.25 191.88L410.90 217.34L411.25 225.12L411.60 228.89L411.70 229.15L411.80 229.03L412.00 227.60L412.40 219.91L412.85 203.25L413.12 186.60L413.65 201.86L414.00 207.24L414.35 209.99L414.50 210.43L414.60 210.50L414.70 210.39L415.10 208.50L415.60 203.62L415.99 197.94L416.70 223.68L417.05 230.21L417.40 232.62L417.60 231.91L417.80 229.59L418.20 219.95L418.85 186.58L419.40 201.41L419.75 206.15L420.10 208.26L420.28 208.41L420.45 208.03L420.85 205.41L421.72 193.64L422.05 208.80L422.50 221.86L422.90 228.35L423.10 229.46L423.20 229.44L423.30 229.01L423.65 224.25L424.00 214.26L424.58 182.97L425.10 198.43L425.45 204.04L425.80 206.96L425.95 207.46L426.05 207.56L426.15 207.49L426.55 205.69L427.10 200.35L427.44 195.28L428.15 223.37L428.50 230.79L428.85 233.89L428.95 233.89L429.05 233.49L429.25 231.41L429.65 222.11L430.30 188.99L430.85 205.49L431.20 210.99L431.55 213.73L431.73 214.15L431.90 214.00L432.30 211.85L432.80 206.58L433.15 200.96L433.85 227.83L434.20 234.94L434.55 237.69L434.75 237.06L434.95 234.72L435.35 224.80L436.01 189.58L436.55 205.00L436.90 210.04L437.25 212.27L437.44 212.43L437.60 212.03L438.00 209.31L438.86 197.30L439.55 223.61L439.95 231.38L440.10 232.86L440.29 233.50L440.45 232.90L440.65 230.66L441.05 221.01L441.71 186.33L442.25 202.26L442.60 207.79L442.95 210.58L443.14 211.06L443.30 210.97L443.70 209.05L444.20 204.27L444.56 199.08L445.25 225.92L445.65 234.20L446.00 236.84L446.20 236.17L446.40 233.84L446.75 225.64L447.15 209.58L447.41 192.33L447.95 208.49L448.30 214.07L448.65 216.86L448.84 217.33L449.00 217.21L449.40 215.22L449.90 210.31L450.26 205.11L450.95 230.62L451.30 237.43L451.65 240.05L451.85 239.47L452.05 237.25L452.45 227.70L453.10 193.92L453.65 209.22L453.95 213.58L454.30 216.10L454.45 216.41L454.65 216.18L455.05 213.86L455.95 202.57L456.25 216.13L456.75 230.23L457.15 236.18L457.35 237.03L457.55 236.33L457.90 231.12L458.25 220.68L458.79 191.07L459.35 207.37L459.65 212.02L460.00 214.91L460.15 215.40L460.25 215.49L460.35 215.41L460.75 213.63L461.25 209.07L461.63 203.95L462.35 231.45L462.70 238.57L463.05 241.41L463.25 240.85L463.45 238.60L463.80 230.45L464.20 214.25L464.46 196.60L465.00 213.09L465.35 218.80L465.70 221.65L465.88 222.11L466.05 221.99L466.40 220.32L466.90 215.54L467.30 209.81L468.00 236.10L468.35 242.96L468.70 245.48L468.90 244.73L469.10 242.28L469.45 233.78L469.85 217.26L470.13 198.20L470.65 213.28L471.00 218.47L471.35 220.82L471.50 221.05L471.70 220.71L472.05 218.62L472.97 207.25L473.65 231.86L474.05 239.17L474.20 240.55L474.38 241.09L474.55 240.45L474.75 238.18L475.15 228.56L475.80 195.19L476.35 211.31L476.65 215.97L477.00 218.85L477.15 219.33L477.25 219.42L477.35 219.35L477.70 217.92L478.25 213.18L478.63 208.33L479.35 235.02L479.70 241.91L480.05 244.59L480.25 243.97L480.45 241.69L480.80 233.51L481.20 217.31L481.45 200.33L482.00 216.96L482.30 221.90L482.65 225.01L482.80 225.54L482.90 225.66L483.00 225.59L483.40 223.79L483.90 219.09L484.28 213.79L484.95 238.81L485.30 245.97L485.65 248.90L485.85 248.41L486.05 246.23L486.45 236.58L487.11 201.65L487.65 217.39L487.95 221.89L488.30 224.45L488.45 224.75L488.65 224.50L489.00 222.51L489.94 211.11L490.60 235.20L490.95 242.08L491.30 244.85L491.50 244.34L491.70 242.18L492.10 232.73L492.76 198.50L493.30 214.55L493.60 219.33L493.95 222.31L494.10 222.81L494.20 222.91L494.30 222.84L494.65 221.42L495.20 216.70L495.59 211.82L496.25 236.83L496.60 244.30L496.95 247.69L497.05 247.80L497.15 247.51L497.35 245.66L497.75 236.75L498.15 220.46L498.41 203.08L498.95 219.77L499.25 224.77L499.60 227.90L499.75 228.43L499.85 228.55L499.95 228.48L500.30 227.02L500.85 222.04L501.23 216.90L501.85 240.32L502.20 247.92L502.55 251.42L502.65 251.57L502.75 251.30L502.95 249.52L503.35 240.70L503.75 224.58L504.05 204.42L504.30 213.43L504.70 222.06L505.10 226.53L505.30 227.40L505.40 227.53L505.50 227.48" stroke="#ff7f0e" stroke-width="2.2"/>
<path d="M85.20 40.23L85.50 40.47L85.90 40.58L86.10 40.68L86.30 40.88L86.80 41.59L87.00 41.78L87.20 41.85L87.60 41.88L87.80 42.01L88.40 42.89L88.60 43.08L88.80 43.13L89.20 43.08L89.40 43.18L89.60 43.43L90.00 44.11L90.20 44.31L90.40 44.35L90.80 44.22L91.00 44.29L91.20 44.53L91.60 45.26L91.80 45.48L92.00 45.51L92.40 45.29L92.60 45.32L92.80 45.56L93.20 46.33L93.40 46.57L93.60 46.59L94.00 46.29L94.20 46.29L94.40 46.52L94.80 47.34L95.00 47.60L95.10 47.64L95.20 47.61L95.60 47.24L95.80 47.20L96.00 47.42L96.50 48.46L96.70 48.61L96.90 48.49L97.30 48.06L97.40 48.05L97.50 48.12L97.70 48.46L98.00 49.17L98.20 49.47L98.30 49.51L98.40 49.48L98.80 48.95L99.00 48.83L99.20 49.03L99.70 50.17L99.80 50.30L99.90 50.34L100.10 50.19L100.50 49.57L100.60 49.53L100.70 49.58L100.90 49.91L101.30 50.90L101.40 51.04L101.50 51.08L101.70 50.91L102.10 50.21L102.20 50.15L102.30 50.19L102.50 50.52L102.90 51.57L103.00 51.71L103.10 51.76L103.20 51.71L103.30 51.57L103.70 50.80L103.80 50.72L103.90 50.75L104.10 51.09L104.50 52.20L104.60 52.35L104.70 52.41L104.80 52.35L104.90 52.21L105.30 51.37L105.40 51.28L105.50 51.30L105.70 51.66L106.10 52.83L106.20 53.00L106.30 53.06L106.40 53.01L106.50 52.85L106.90 51.96L107.00 51.86L107.10 51.88L107.30 52.25L107.70 53.50L107.80 53.68L107.90 53.74L108.00 53.69L108.10 53.53L108.50 52.57L108.60 52.47L108.70 52.48L108.90 52.87L109.30 54.18L109.40 54.37L109.50 54.44L109.60 54.38L109.70 54.21L110.10 53.19L110.20 53.08L110.30 53.10L110.50 53.50L110.90 54.84L111.00 55.03L111.10 55.09L111.20 55.03L111.30 54.86L111.70 53.86L111.80 53.75L111.90 53.77L112.10 54.17L112.50 55.48L112.60 55.66L112.70 55.73L112.80 55.67L112.90 55.50L113.30 54.52L113.40 54.42L113.50 54.44L113.70 54.82L114.10 56.11L114.20 56.29L114.30 56.35L114.40 56.30L114.50 56.14L114.90 55.18L115.00 55.08L115.10 55.09L115.30 55.46L115.70 56.71L115.80 56.89L115.90 56.95L116.00 56.90L116.10 56.75L116.50 55.80L116.60 55.70L116.70 55.71L116.90 56.06L117.30 57.29L117.40 57.46L117.50 57.53L117.60 57.48L117.70 57.34L118.10 56.42L118.20 56.31L118.30 56.32L118.50 56.66L118.90 57.86L119.00 58.04L119.10 58.12L119.20 58.08L119.30 57.94L119.70 57.05L119.80 56.95L119.90 56.95L120.10 57.28L120.50 58.48L120.60 58.66L120.70 58.74L120.80 58.71L120.90 58.59L121.30 57.74L121.40 57.64L121.50 57.65L121.70 57.97L122.10 59.16L122.30 59.44L122.40 59.43L122.50 59.32L122.90 58.52L123.00 58.42L123.10 58.43L123.30 58.74L123.70 59.93L123.90 60.24L124.00 60.23L124.10 60.14L124.40 59.56L124.60 59.30L124.70 59.30L124.80 59.41L125.30 60.79L125.50 61.11L125.60 61.12L125.70 61.04L126.10 60.33L126.20 60.24L126.30 60.24L126.50 60.54L126.90 61.70L127.10 62.04L127.20 62.06L127.30 62.00L127.70 61.33L127.80 61.24L127.90 61.23L128.10 61.51L128.50 62.66L128.70 63.01L128.80 63.05L128.90 62.99L129.30 62.36L129.40 62.27L129.50 62.26L129.70 62.52L130.10 63.65L130.30 64.00L130.40 64.05L130.50 64.01L130.90 63.40L131.00 63.31L131.10 63.30L131.30 63.54L131.70 64.63L131.90 65.00L132.00 65.05L132.10 65.02L132.50 64.44L132.60 64.35L132.70 64.33L132.90 64.55L133.30 65.61L133.50 65.98L133.60 66.03L133.70 66.01L134.10 65.45L134.20 65.35L134.30 65.33L134.50 65.53L135.00 66.77L135.20 66.98L135.30 66.95L135.40 66.86L135.70 66.41L135.90 66.28L136.10 66.47L136.50 67.46L136.70 67.80L136.80 67.86L136.90 67.84L137.30 67.30L137.50 67.17L137.70 67.35L138.10 68.29L138.30 68.62L138.40 68.67L138.50 68.64L138.90 68.12L139.10 67.99L139.30 68.16L139.70 69.07L139.90 69.39L140.00 69.44L140.10 69.41L140.50 68.91L140.70 68.79L140.90 68.96L141.30 69.84L141.50 70.14L141.60 70.19L141.70 70.16L142.10 69.67L142.30 69.56L142.50 69.73L142.90 70.58L143.10 70.87L143.20 70.91L143.30 70.88L143.70 70.40L143.90 70.31L144.10 70.48L144.50 71.31L144.70 71.58L144.80 71.61L144.90 71.58L145.30 71.12L145.50 71.04L145.70 71.22L146.10 72.02L146.30 72.27L146.40 72.30L146.50 72.26L146.90 71.82L147.10 71.76L147.30 71.95L147.70 72.72L147.90 72.95L148.00 72.97L148.10 72.93L148.50 72.51L148.70 72.46L148.90 72.66L149.30 73.41L149.50 73.62L149.70 73.58L150.10 73.18L150.30 73.15L150.50 73.36L150.90 74.09L151.10 74.28L151.30 74.23L151.70 73.84L151.90 73.83L152.10 74.06L152.40 74.62L152.60 74.89L152.80 74.93L153.30 74.49L153.50 74.50L153.70 74.74L154.00 75.30L154.20 75.55L154.40 75.57L154.80 75.19L155.00 75.12L155.20 75.28L155.60 75.98L155.80 76.20L156.00 76.20L156.40 75.82L156.60 75.77L156.80 75.95L157.30 76.77L157.50 76.85L157.60 76.81L158.00 76.43L158.20 76.41L158.40 76.61L158.80 77.29L159.00 77.46L159.20 77.40L159.60 77.03L159.80 77.03L160.00 77.26L160.30 77.79L160.50 78.02L160.70 78.04L161.10 77.68L161.30 77.61L161.50 77.76L161.90 78.42L162.10 78.63L162.30 78.61L162.70 78.25L162.90 78.21L163.10 78.39L163.50 79.05L163.70 79.22L163.90 79.17L164.30 78.82L164.50 78.81L164.70 79.03L165.10 79.67L165.30 79.80L165.50 79.73L165.80 79.44L166.00 79.38L166.20 79.52L166.60 80.17L166.80 80.36L167.00 80.35L167.40 80.00L167.60 79.98L167.80 80.16L168.20 80.80L168.40 80.96L168.60 80.91L168.90 80.64L169.10 80.56L169.30 80.68L169.70 81.30L169.90 81.52L170.10 81.53L170.50 81.21L170.70 81.16L170.90 81.32L171.30 81.96L171.50 82.14L171.70 82.11L172.00 81.86L172.20 81.77L172.40 81.87L172.90 82.62L173.10 82.75L173.30 82.69L173.60 82.44L173.80 82.39L174.00 82.54L174.40 83.16L174.60 83.35L174.80 83.33L175.20 83.03L175.40 83.03L175.60 83.22L176.00 83.84L176.20 83.98L176.40 83.92L176.70 83.68L176.90 83.63L177.10 83.78L177.50 84.39L177.70 84.58L177.90 84.57L178.30 84.28L178.50 84.28L178.70 84.47L179.10 85.08L179.30 85.22L179.50 85.17L179.80 84.94L180.00 84.90L180.20 85.04L180.60 85.65L180.80 85.83L181.00 85.82L181.40 85.54L181.60 85.55L181.80 85.75L182.10 86.21L182.30 86.43L182.50 86.46L182.90 86.20L183.10 86.17L183.30 86.33L183.70 86.92L183.90 87.08L184.10 87.07L184.50 86.81L184.70 86.84L185.40 87.70L185.60 87.72L186.00 87.46L186.20 87.46L186.40 87.63L186.80 88.20L187.00 88.35L187.20 88.32L187.50 88.12L187.70 88.08L187.90 88.22L188.30 88.79L188.50 88.97L188.70 88.97L189.10 88.73L189.30 88.75L189.50 88.93L189.80 89.37L190.00 89.58L190.20 89.62L190.60 89.39L190.80 89.37L191.00 89.53L191.40 90.09L191.60 90.24L191.80 90.23L192.10 90.05L192.30 90.00L192.50 90.13L192.90 90.68L193.10 90.86L193.30 90.87L193.70 90.66L193.90 90.67L194.10 90.84L194.50 91.38L194.70 91.51L194.90 91.48L195.20 91.31L195.40 91.29L195.60 91.44L196.00 91.97L196.20 92.13L196.40 92.12L196.80 91.92L197.00 91.96L197.20 92.15L197.50 92.56L197.70 92.74L197.90 92.76L198.30 92.56L198.50 92.58L198.70 92.74L199.20 93.35L199.40 93.39L199.80 93.21L200.00 93.20L200.20 93.34L200.60 93.86L200.80 94.01L201.00 94.00L201.40 93.81L201.60 93.85L202.10 94.44L202.30 94.62L202.50 94.63L202.90 94.44L203.10 94.46L203.30 94.63L203.80 95.22L204.00 95.26L204.40 95.07L204.60 95.07L204.80 95.21L205.20 95.73L205.40 95.87L205.60 95.85L205.90 95.70L206.10 95.67L206.30 95.80L206.70 96.31L206.90 96.47L207.10 96.47L207.50 96.28L207.70 96.31L208.40 97.06L208.60 97.09L209.00 96.90L209.20 96.90L209.40 97.06L209.90 97.64L210.10 97.69L210.50 97.50L210.70 97.49L210.90 97.63L211.30 98.13L211.50 98.27L211.70 98.27L212.10 98.08L212.30 98.12L212.80 98.69L213.00 98.85L213.20 98.86L213.60 98.67L213.80 98.69L214.50 99.42L214.70 99.45L215.10 99.26L215.30 99.26L215.50 99.42L215.90 99.91L216.10 100.03L216.30 100.00L216.60 99.84L216.80 99.83L217.00 99.97L217.40 100.46L217.60 100.60L217.80 100.59L218.10 100.43L218.30 100.40L218.50 100.52L218.90 101.02L219.10 101.17L219.30 101.17L219.70 100.98L219.90 101.01L220.60 101.73L220.80 101.75L221.20 101.56L221.40 101.57L221.60 101.73L221.90 102.11L222.10 102.29L222.30 102.32L222.70 102.13L222.90 102.13L223.10 102.28L223.60 102.85L223.80 102.89L224.20 102.71L224.40 102.69L224.60 102.83L225.00 103.31L225.20 103.45L225.40 103.43L225.70 103.28L225.90 103.25L226.10 103.37L226.50 103.86L226.70 104.00L226.90 104.00L227.20 103.85L227.40 103.81L227.60 103.92L228.00 104.40L228.20 104.56L228.40 104.57L228.80 104.38L229.00 104.40L229.70 105.11L229.90 105.13L230.30 104.94L230.50 104.95L230.70 105.11L231.20 105.66L231.40 105.69L231.80 105.50L232.00 105.50L232.20 105.65L232.70 106.20L232.90 106.24L233.30 106.06L233.50 106.05L233.70 106.18L234.10 106.66L234.30 106.78L234.50 106.76L234.80 106.61L235.00 106.59L235.20 106.72L235.60 107.20L235.80 107.33L236.00 107.31L236.30 107.16L236.50 107.14L236.70 107.26L237.10 107.73L237.30 107.87L237.50 107.86L237.80 107.71L238.00 107.68L238.20 107.79L238.60 108.26L238.80 108.41L239.00 108.41L239.40 108.22L239.60 108.25L240.10 108.79L240.30 108.94L240.50 108.95L240.90 108.76L241.10 108.78L241.80 109.47L242.00 109.48L242.40 109.30L242.60 109.32L243.30 110.00L243.50 110.02L243.90 109.83L244.10 109.84L244.80 110.53L245.00 110.55L245.40 110.36L245.60 110.37L245.80 110.52L246.10 110.89L246.30 111.05L246.50 111.07L246.90 110.89L247.10 110.90L247.30 111.04L247.80 111.57L248.00 111.60L248.40 111.42L248.60 111.42L248.80 111.56L249.30 112.09L249.50 112.12L249.90 111.94L250.10 111.94L250.30 112.08L250.80 112.61L251.00 112.64L251.40 112.45L251.60 112.45L251.80 112.59L252.30 113.12L252.50 113.15L252.90 112.97L253.10 112.97L253.30 113.11L253.80 113.63L254.00 113.66L254.40 113.48L254.60 113.48L254.80 113.62L255.30 114.14L255.50 114.17L255.90 113.99L256.10 113.98L256.30 114.12L256.80 114.64L257.00 114.67L257.40 114.49L257.60 114.49L257.80 114.63L258.30 115.14L258.50 115.17L258.90 114.99L259.10 114.99L259.30 115.13L259.80 115.64L260.00 115.67L260.40 115.48L260.60 115.49L260.80 115.63L261.10 115.98L261.30 116.14L261.50 116.16L261.90 115.98L262.10 115.98L262.80 116.63L263.00 116.65L263.40 116.46L263.60 116.48L264.30 117.12L264.50 117.13L264.90 116.95L265.10 116.96L265.80 117.61L266.00 117.61L266.40 117.43L266.60 117.45L267.10 117.95L267.30 118.09L267.50 118.09L267.90 117.91L268.10 117.94L268.60 118.44L268.80 118.57L269.00 118.57L269.30 118.42L269.50 118.39L269.70 118.49L270.10 118.93L270.30 119.05L270.50 119.04L270.80 118.89L271.00 118.86L271.20 118.97L271.60 119.41L271.80 119.53L272.00 119.51L272.30 119.36L272.50 119.34L272.70 119.46L273.10 119.89L273.30 120.00L273.50 119.97L273.80 119.82L274.00 119.81L274.20 119.94L274.70 120.44L274.90 120.47L275.30 120.29L275.50 120.28L275.70 120.42L276.20 120.91L276.40 120.93L276.80 120.75L277.00 120.76L277.70 121.38L277.90 121.39L278.30 121.21L278.50 121.23L278.70 121.38L279.00 121.71L279.20 121.85L279.40 121.84L279.70 121.70L279.90 121.66L280.10 121.76L280.50 122.19L280.70 122.31L280.90 122.30L281.20 122.15L281.40 122.13L281.60 122.24L282.00 122.66L282.20 122.77L282.40 122.75L282.70 122.60L282.90 122.59L283.10 122.71L283.50 123.13L283.70 123.23L283.90 123.20L284.30 123.04L284.50 123.10L285.10 123.66L285.30 123.68L285.70 123.50L285.90 123.51L286.60 124.12L286.80 124.13L287.20 123.95L287.40 123.98L287.90 124.46L288.10 124.58L288.30 124.57L288.60 124.43L288.80 124.40L289.00 124.51L289.40 124.93L289.60 125.04L289.80 125.02L290.10 124.87L290.30 124.86L290.50 124.98L290.90 125.40L291.10 125.49L291.30 125.46L291.60 125.32L291.80 125.32L292.50 125.92L292.70 125.93L293.10 125.76L293.30 125.78L293.80 126.25L294.00 126.38L294.20 126.37L294.50 126.23L294.70 126.20L294.90 126.30L295.30 126.71L295.50 126.83L295.70 126.81L296.00 126.67L296.20 126.66L296.40 126.77L296.80 127.18L297.00 127.28L297.20 127.25L297.50 127.11L297.70 127.11L297.90 127.24L298.40 127.71L298.60 127.72L299.00 127.55L299.20 127.57L299.90 128.16L300.10 128.16L300.40 128.03L300.60 127.99L300.80 128.09L301.20 128.50L301.40 128.61L301.60 128.60L301.90 128.46L302.10 128.45L302.30 128.56L302.70 128.97L302.90 129.06L303.10 129.03L303.40 128.90L303.60 128.90L304.30 129.49L304.50 129.50L304.90 129.34L305.10 129.35L305.60 129.81L305.80 129.94L306.00 129.94L306.30 129.80L306.50 129.78L306.70 129.88L307.10 130.28L307.30 130.39L307.50 130.37L307.80 130.24L308.00 130.23L308.20 130.35L308.70 130.81L308.90 130.83L309.30 130.67L309.50 130.68L310.20 131.26L310.40 131.27L310.80 131.11L311.00 131.13L311.50 131.59L311.70 131.71L311.90 131.70L312.20 131.57L312.40 131.55L312.60 131.66L313.00 132.05L313.20 132.15L313.40 132.12L313.70 132.00L313.90 132.00L314.60 132.57L314.80 132.58L315.20 132.43L315.40 132.45L315.90 132.90L316.10 133.01L316.30 133.01L316.60 132.89L316.80 132.87L317.00 132.97L317.40 133.36L317.60 133.46L317.80 133.43L318.10 133.31L318.30 133.31L318.50 133.43L319.00 133.87L319.20 133.89L319.60 133.74L319.80 133.76L320.30 134.19L320.50 134.31L320.70 134.31L321.00 134.19L321.20 134.17L321.40 134.27L321.80 134.65L322.00 134.75L322.20 134.73L322.50 134.61L322.70 134.61L322.90 134.73L323.40 135.16L323.60 135.18L324.00 135.03L324.20 135.05L324.70 135.48L324.90 135.60L325.10 135.59L325.40 135.48L325.60 135.46L325.80 135.56L326.20 135.93L326.40 136.03L326.60 136.01L326.90 135.89L327.10 135.89L327.80 136.43L328.00 136.45L328.40 136.31L328.60 136.33L329.10 136.75L329.30 136.87L329.50 136.86L329.80 136.75L330.00 136.73L330.20 136.83L330.70 137.26L330.90 137.29L331.30 137.16L331.50 137.16L332.20 137.69L332.40 137.70L332.80 137.57L333.00 137.59L333.50 138.01L333.70 138.12L334.40 137.99L334.60 138.10L335.10 138.51L335.30 138.54L335.70 138.40L335.90 138.42L336.60 138.94L336.80 138.94L337.10 138.83L337.30 138.81L337.50 138.90L337.90 139.26L338.10 139.35L338.30 139.34L338.60 139.23L338.80 139.23L339.50 139.74L339.70 139.76L340.10 139.63L340.30 139.65L340.80 140.05L341.00 140.16L341.70 140.04L341.90 140.14L342.40 140.54L342.60 140.56L343.00 140.44L343.20 140.45L343.90 140.95L344.10 140.96L344.40 140.85L344.60 140.84L344.80 140.93L345.30 141.33L345.50 141.36L345.90 141.24L346.10 141.24L346.80 141.74L347.00 141.75L347.50 141.63L347.70 141.71L348.10 142.05L348.30 142.14L349.00 142.03L349.70 142.52L349.90 142.54L350.30 142.42L350.50 142.44L351.00 142.82L351.20 142.92L351.90 142.81L352.10 142.91L352.60 143.29L352.80 143.32L353.20 143.20L353.40 143.21L354.10 143.69L354.30 143.69L354.60 143.60L354.80 143.59L355.00 143.68L355.40 144.00L355.60 144.09L356.10 143.97L356.30 143.98L357.00 144.46L357.20 144.46L357.70 144.35L357.90 144.44L358.30 144.76L358.50 144.85L359.00 144.74L359.20 144.75L359.90 145.22L360.10 145.23L360.60 145.11L360.80 145.20L361.20 145.52L361.40 145.61L361.60 145.60L361.90 145.50L362.10 145.50L362.80 145.97L363.00 145.98L363.50 145.87L363.70 145.95L364.10 146.27L364.30 146.36L364.50 146.35L364.80 146.26L365.00 146.26L365.70 146.72L365.90 146.74L366.40 146.62L366.60 146.70L367.00 147.02L367.20 147.11L367.40 147.10L367.70 147.00L367.90 147.01L368.60 147.47L368.80 147.48L369.30 147.37L369.50 147.45L369.90 147.77L370.10 147.86L370.30 147.84L370.60 147.75L370.80 147.75L371.50 148.21L371.70 148.23L372.20 148.11L372.40 148.19L372.80 148.51L373.00 148.60L373.20 148.58L373.50 148.49L373.70 148.49L374.40 148.95L374.60 148.96L375.10 148.85L375.30 148.93L375.70 149.25L375.90 149.34L376.40 149.23L376.60 149.23L377.30 149.69L377.50 149.70L378.00 149.59L378.20 149.67L378.60 149.99L378.80 150.07L379.30 149.96L379.50 149.97L380.20 150.43L380.40 150.43L380.70 150.34L380.90 150.32L381.10 150.41L381.60 150.78L381.80 150.80L382.20 150.69L382.40 150.70L383.10 151.16L383.80 151.06L384.00 151.15L384.50 151.51L384.70 151.53L385.10 151.42L385.30 151.44L385.80 151.80L386.00 151.89L386.70 151.79L387.40 152.25L387.60 152.26L388.10 152.14L388.30 152.22L388.70 152.54L388.90 152.62L389.40 152.52L389.60 152.52L390.30 152.98L390.50 152.98L391.00 152.88L391.20 152.96L391.70 153.33L391.90 153.35L392.30 153.24L392.50 153.25L393.20 153.71L393.90 153.61L394.60 154.06L394.80 154.08L395.20 153.96L395.40 153.99L395.90 154.35L396.10 154.44L396.60 154.33L396.80 154.34L397.50 154.79L397.70 154.80L398.20 154.69L398.40 154.77L398.90 155.14L399.10 155.16L399.50 155.05L399.70 155.06L400.40 155.52L401.10 155.41L401.80 155.87L402.00 155.88L402.50 155.76L402.70 155.84L403.10 156.16L403.30 156.24L403.80 156.13L404.00 156.14L404.70 156.59L404.90 156.59L405.20 156.49L405.40 156.48L405.60 156.57L406.10 156.93L406.30 156.95L406.70 156.83L406.90 156.85L407.40 157.22L407.60 157.30L407.80 157.29L408.10 157.19L408.30 157.20L409.00 157.65L409.20 157.65L409.70 157.54L409.90 157.63L410.40 157.99L410.60 158.01L411.00 157.89L411.20 157.91L411.70 158.26L411.90 158.35L412.60 158.25L413.30 158.69L413.50 158.70L414.00 158.59L414.20 158.67L414.70 159.03L414.90 159.05L415.30 158.93L415.50 158.95L416.00 159.30L416.20 159.39L416.90 159.28L417.60 159.72L417.80 159.73L418.30 159.62L418.50 159.70L418.90 160.00L419.10 160.08L419.60 159.96L419.80 159.97L420.30 160.32L420.50 160.41L421.20 160.30L421.90 160.74L422.10 160.74L422.60 160.63L422.80 160.71L423.30 161.06L423.50 161.08L423.90 160.96L424.10 160.97L424.60 161.32L424.80 161.41L425.00 161.39L425.30 161.29L425.50 161.29L426.20 161.73L426.40 161.73L426.70 161.63L426.90 161.61L427.10 161.70L427.60 162.05L427.80 162.06L428.30 161.93L428.50 162.00L428.90 162.31L429.10 162.38L429.60 162.26L429.80 162.27L430.50 162.70L431.20 162.58L431.90 163.01L432.10 163.02L432.60 162.89L432.80 162.97L433.30 163.32L433.50 163.34L433.90 163.21L434.10 163.22L434.60 163.56L434.80 163.65L435.00 163.63L435.30 163.53L435.50 163.53L436.20 163.95L436.40 163.95L436.70 163.85L436.90 163.83L437.10 163.92L437.60 164.26L437.80 164.27L438.30 164.14L438.50 164.21L439.00 164.56L439.20 164.58L439.60 164.46L439.80 164.46L440.50 164.88L441.20 164.76L441.90 165.18L442.10 165.18L442.60 165.06L442.80 165.14L443.30 165.48L443.50 165.49L444.00 165.36L444.20 165.43L444.60 165.72L444.80 165.79L445.30 165.67L445.50 165.67L446.20 166.09L446.90 165.97L447.60 166.38L447.80 166.38L448.10 166.28L448.30 166.26L448.50 166.34L449.00 166.67L449.20 166.68L449.70 166.55L449.90 166.62L450.30 166.91L450.50 166.98L451.00 166.85L451.20 166.86L451.70 167.20L451.90 167.28L452.10 167.26L452.40 167.15L452.60 167.15L453.30 167.56L454.00 167.44L454.70 167.85L454.90 167.85L455.40 167.73L455.60 167.80L456.10 168.14L456.30 168.15L456.70 168.02L456.90 168.03L457.40 168.37L457.60 168.44L458.10 168.31L458.30 168.32L459.00 168.73L459.70 168.60L460.40 169.01L461.10 168.89L461.80 169.29L462.00 169.29L462.50 169.17L462.70 169.24L463.20 169.56L463.40 169.58L463.90 169.46L464.10 169.52L464.50 169.79L464.70 169.86L465.20 169.75L465.40 169.76L466.10 170.14L466.80 170.04L467.50 170.42L468.20 170.32L468.90 170.70L469.60 170.60L470.30 170.97L470.50 170.98L471.00 170.88L471.20 170.95L471.70 171.24L471.90 171.26L472.30 171.16L472.50 171.18L473.10 171.51L473.30 171.54L473.70 171.45L473.90 171.46L474.60 171.81L475.30 171.73L476.00 172.08L476.70 172.01L477.40 172.35L478.10 172.28L478.80 172.62L479.50 172.56L480.20 172.89L480.40 172.90L480.90 172.83L481.10 172.89L481.60 173.15L482.40 173.12L483.00 173.42L483.20 173.44L483.60 173.38L483.80 173.39L484.40 173.68L484.60 173.71L485.20 173.66L485.90 173.97L486.60 173.93L487.30 174.24L488.00 174.20L488.70 174.50L489.40 174.46L490.10 174.76L490.80 174.73L491.50 175.02L492.20 174.99L493.00 175.30L493.70 175.27L494.40 175.55L495.10 175.54L495.80 175.81L496.50 175.80L497.20 176.07L497.90 176.06L498.60 176.32L499.30 176.32L500.00 176.58L500.70 176.58L501.40 176.83L502.10 176.83L502.80 177.08L503.50 177.09L504.20 177.33L504.90 177.34" stroke="#d62728" stroke-width="2.6" stroke-dasharray="9.25 4" stroke-dashoffset="0.291"/>
</g></g>
<g stroke="#000" stroke-width="0.9" fill="none">
<path d="M85.20 3.00L504.90 3.00L504.90 300.35L85.20 300.35Z"/>
<path d="M81.80 40.00L85.20 40.00"/>
<path d="M81.80 86.49L85.20 86.49"/>
<path d="M81.80 132.98L85.20 132.98"/>
<path d="M81.80 179.47L85.20 179.47"/>
<path d="M81.80 225.96L85.20 225.96"/>
<path d="M81.80 272.45L85.20 272.45"/>
<path d="M85.20 300.35L85.20 303.75"/>
<path d="M155.15 300.35L155.15 303.75"/>
<path d="M225.10 300.35L225.10 303.75"/>
<path d="M295.05 300.35L295.05 303.75"/>
<path d="M365.00 300.35L365.00 303.75"/>
<path d="M434.95 300.35L434.95 303.75"/>
<path d="M504.90 300.35L504.90 303.75"/>
</g>
<g fill="#000" font-size="17">
<text x="80.2" y="46.15" text-anchor="end" textLength="45.80" lengthAdjust="spacingAndGlyphs">0.000</text>
<text x="80.2" y="92.64" text-anchor="end" textLength="59.21" lengthAdjust="spacingAndGlyphs">−0.005</text>
<text x="80.2" y="139.13" text-anchor="end" textLength="59.21" lengthAdjust="spacingAndGlyphs">−0.010</text>
<text x="80.2" y="185.62" text-anchor="end" textLength="59.21" lengthAdjust="spacingAndGlyphs">−0.015</text>
<text x="80.2" y="232.11" text-anchor="end" textLength="59.21" lengthAdjust="spacingAndGlyphs">−0.020</text>
<text x="80.2" y="278.60" text-anchor="end" textLength="59.21" lengthAdjust="spacingAndGlyphs">−0.025</text>
<text x="85.20" y="318.7" text-anchor="middle" textLength="10.18" lengthAdjust="spacingAndGlyphs">0</text>
<text x="155.15" y="318.7" text-anchor="middle" textLength="20.36" lengthAdjust="spacingAndGlyphs">20</text>
<text x="225.10" y="318.7" text-anchor="middle" textLength="20.36" lengthAdjust="spacingAndGlyphs">40</text>
<text x="295.05" y="318.7" text-anchor="middle" textLength="20.36" lengthAdjust="spacingAndGlyphs">60</text>
<text x="365.00" y="318.7" text-anchor="middle" textLength="20.36" lengthAdjust="spacingAndGlyphs">80</text>
<text x="434.95" y="318.7" text-anchor="middle" textLength="30.54" lengthAdjust="spacingAndGlyphs">100</text>
<text x="504.90" y="318.7" text-anchor="middle" textLength="30.54" lengthAdjust="spacingAndGlyphs">120</text>
</g>
<text x="280.47" y="336.00" font-size="15.90" font-style="italic" textLength="19.63" lengthAdjust="spacingAndGlyphs">t/P</text>
<text x="300.91" y="338.60" font-size="11.00" textLength="6.98" lengthAdjust="spacingAndGlyphs">0</text>
<text transform="rotate(-90)" x="-204.47" y="13.40" font-size="15.90" font-style="italic" textLength="8.55" lengthAdjust="spacingAndGlyphs">L</text>
<text transform="rotate(-90)" x="-195.61" y="15.60" font-size="10.60" textLength="21.23" lengthAdjust="spacingAndGlyphs">sBH</text>
<text transform="rotate(-90)" x="-168.97" y="13.40" font-size="15.90" textLength="11.54" lengthAdjust="spacingAndGlyphs">−</text>
<text transform="rotate(-90)" x="-152.87" y="13.40" font-size="15.90" font-style="italic" textLength="8.55" lengthAdjust="spacingAndGlyphs">L</text>
<text transform="rotate(-90)" x="-143.91" y="15.60" font-size="10.60" textLength="21.02" lengthAdjust="spacingAndGlyphs">sBH</text>
<text transform="rotate(-90)" x="-121.40" y="13.40" font-size="15.90" textLength="21.59" lengthAdjust="spacingAndGlyphs">(0)</text>
<rect x="92.3" y="199.55" width="174.7" height="93.65" rx="2.2" ry="2.2" fill="#fff" fill-opacity="0.8" stroke="#ccc" stroke-width="0.9"/>
<path d="M97.4 211.06L127.6 211.06" stroke="#1f77b4" stroke-width="1.8" fill="none"/>
<text x="137.6" y="215.80" font-size="15.2" textLength="103.30" lengthAdjust="spacingAndGlyphs">Driven by sink</text>
<path d="M97.4 237.20L127.6 237.20" stroke="#000" stroke-width="1.8" fill="none"/>
<text x="137.6" y="241.40" font-size="15.2" textLength="73.59" lengthAdjust="spacingAndGlyphs">Change of</text>
<path d="M97.4 258.35L127.6 258.35" stroke="#ff7f0e" stroke-width="1.8" fill="none"/>
<text x="137.6" y="263.30" font-size="15.2" textLength="100.44" lengthAdjust="spacingAndGlyphs">Change of AM</text>
<path d="M97.4 279.50L127.6 279.50" stroke="#d62728" stroke-width="2.5" stroke-dasharray="9.25 4" fill="none"/>
<text x="137.6" y="284.60" font-size="15.2" textLength="99.80" lengthAdjust="spacingAndGlyphs">Driven by gas</text>
<text x="216.9" y="241.1" font-size="16.5">√</text>
<path d="M224.9 227.4L260.8 227.4" stroke="#000" stroke-width="1"/>
<text x="227.3" y="241.2" font-size="15.4" font-style="italic" textLength="31.4" lengthAdjust="spacingAndGlyphs">GMa</text>
</svg></body></html>
